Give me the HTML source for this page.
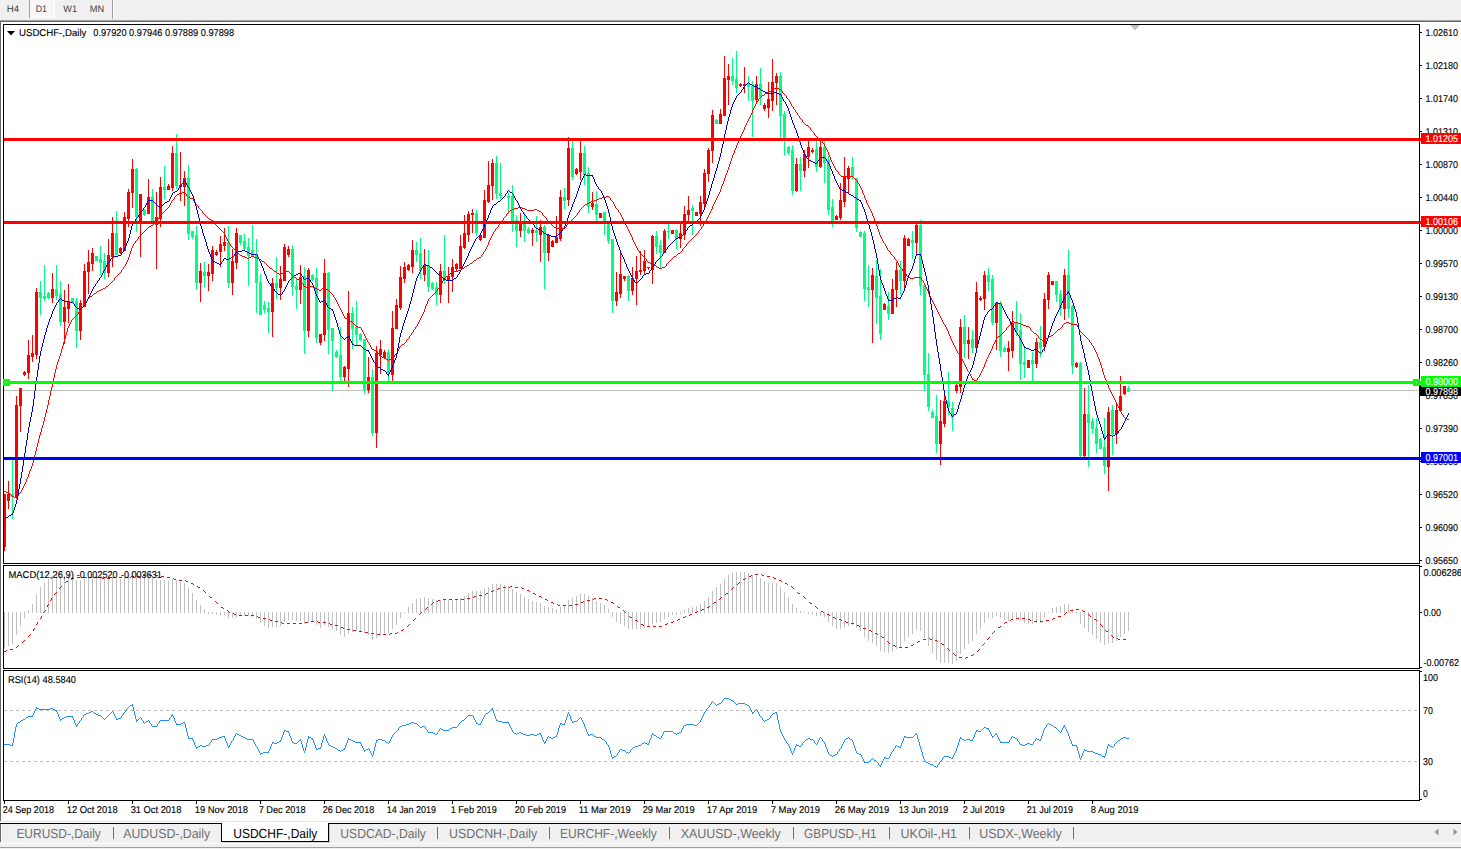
<!DOCTYPE html>
<html><head><meta charset="utf-8"><title>USDCHF-,Daily</title>
<style>
html,body{margin:0;padding:0;background:#ffffff;overflow:hidden}
body{width:1461px;height:849px;position:relative;font-family:"Liberation Sans",sans-serif}
svg text{font-family:"Liberation Sans",sans-serif;text-rendering:geometricPrecision}
</style></head><body>
<svg width="1461" height="849" viewBox="0 0 1461 849" shape-rendering="crispEdges" font-family="Liberation Sans, sans-serif" style="position:absolute;left:0;top:0">
<rect x="0" y="0" width="1461" height="849" fill="#ffffff"/>
<rect x="0" y="0" width="1461" height="20" fill="#f0f0f0"/>
<rect x="0" y="20" width="1461" height="1" fill="#a0a0a0"/>
<rect x="0" y="21" width="1461" height="1" fill="#696969"/>
<defs><pattern id="chk" width="2" height="2" patternUnits="userSpaceOnUse"><rect width="2" height="2" fill="#ffffff"/><rect width="1" height="1" fill="#f0f0f0"/><rect x="1" y="1" width="1" height="1" fill="#f0f0f0"/></pattern></defs>
<rect x="30" y="0" width="24" height="17" fill="url(#chk)"/>
<rect x="29" y="0" width="1" height="18" fill="#a0a0a0"/>
<rect x="30" y="17" width="25" height="1" fill="#ffffff"/>
<rect x="54" y="0" width="1" height="18" fill="#ffffff"/>
<rect x="112" y="0" width="1" height="19" fill="#a0a0a0"/>
<rect x="113" y="0" width="1" height="19" fill="#ffffff"/>
<text x="6.7" y="11.6" font-size="9.5" fill="#404040" stroke="#404040" stroke-width="0" textLength="12.3" lengthAdjust="spacingAndGlyphs"  xml:space="preserve">H4</text>
<text x="35.8" y="11.6" font-size="9.5" fill="#404040" stroke="#404040" stroke-width="0" textLength="11.2" lengthAdjust="spacingAndGlyphs"  xml:space="preserve">D1</text>
<text x="63.3" y="11.6" font-size="9.5" fill="#404040" stroke="#404040" stroke-width="0" textLength="13.7" lengthAdjust="spacingAndGlyphs"  xml:space="preserve">W1</text>
<text x="89.8" y="11.6" font-size="9.5" fill="#404040" stroke="#404040" stroke-width="0" textLength="14.4" lengthAdjust="spacingAndGlyphs"  xml:space="preserve">MN</text>
<rect x="0" y="22" width="1" height="799" fill="#696969"/>
<rect x="0" y="821" width="1461" height="1" fill="#e3e3e3"/>
<rect x="0" y="823" width="1461" height="1" fill="#000000"/>
<rect x="0" y="824" width="1461" height="19" fill="#f0f0f0"/>
<rect x="0" y="824" width="1" height="18" fill="#696969"/>
<rect x="1" y="824" width="1" height="19" fill="#ffffff"/>
<rect x="0" y="843" width="1461" height="1" fill="#ffffff"/>
<rect x="0" y="844" width="1461" height="3" fill="#f0f0f0"/>
<rect x="0" y="847" width="1461" height="1" fill="#a0a0a0"/>
<rect x="0" y="848" width="1461" height="1" fill="#f0f0f0"/>
<rect x="3" y="24" width="1417" height="1" fill="#000000"/>
<rect x="3" y="563" width="1417" height="1" fill="#000000"/>
<rect x="3" y="565" width="1417" height="1" fill="#000000"/>
<rect x="3" y="668" width="1417" height="1" fill="#000000"/>
<rect x="3" y="670" width="1417" height="1" fill="#000000"/>
<rect x="3" y="800" width="1417" height="1" fill="#000000"/>
<rect x="3" y="24" width="1" height="540" fill="#000000"/>
<rect x="3" y="565" width="1" height="104" fill="#000000"/>
<rect x="3" y="670" width="1" height="131" fill="#000000"/>
<rect x="1419" y="24" width="1" height="540" fill="#000000"/>
<rect x="1419" y="565" width="1" height="104" fill="#000000"/>
<rect x="1419" y="670" width="1" height="131" fill="#000000"/>
<path d="M1130 25h10l-5 5.5z" fill="#c0c0c0" shape-rendering="auto"/>
<rect x="1420" y="32" width="2" height="1" fill="#000000"/>
<text x="1425.5" y="36" font-size="9.9" fill="#000" stroke="#000" stroke-width="0.12" textLength="32.5" lengthAdjust="spacingAndGlyphs"  xml:space="preserve">1.02610</text>
<rect x="1420" y="65" width="2" height="1" fill="#000000"/>
<text x="1425.5" y="69" font-size="9.9" fill="#000" stroke="#000" stroke-width="0.12" textLength="32.5" lengthAdjust="spacingAndGlyphs"  xml:space="preserve">1.02180</text>
<rect x="1420" y="98" width="2" height="1" fill="#000000"/>
<text x="1425.5" y="102" font-size="9.9" fill="#000" stroke="#000" stroke-width="0.12" textLength="32.5" lengthAdjust="spacingAndGlyphs"  xml:space="preserve">1.01740</text>
<rect x="1420" y="131" width="2" height="1" fill="#000000"/>
<text x="1425.5" y="135" font-size="9.9" fill="#000" stroke="#000" stroke-width="0.12" textLength="32.5" lengthAdjust="spacingAndGlyphs"  xml:space="preserve">1.01310</text>
<rect x="1420" y="164" width="2" height="1" fill="#000000"/>
<text x="1425.5" y="168" font-size="9.9" fill="#000" stroke="#000" stroke-width="0.12" textLength="32.5" lengthAdjust="spacingAndGlyphs"  xml:space="preserve">1.00870</text>
<rect x="1420" y="197" width="2" height="1" fill="#000000"/>
<text x="1425.5" y="201" font-size="9.9" fill="#000" stroke="#000" stroke-width="0.12" textLength="32.5" lengthAdjust="spacingAndGlyphs"  xml:space="preserve">1.00440</text>
<rect x="1420" y="230" width="2" height="1" fill="#000000"/>
<text x="1425.5" y="234" font-size="9.9" fill="#000" stroke="#000" stroke-width="0.12" textLength="32.5" lengthAdjust="spacingAndGlyphs"  xml:space="preserve">1.00000</text>
<rect x="1420" y="263" width="2" height="1" fill="#000000"/>
<text x="1425.5" y="267" font-size="9.9" fill="#000" stroke="#000" stroke-width="0.12" textLength="32.5" lengthAdjust="spacingAndGlyphs"  xml:space="preserve">0.99570</text>
<rect x="1420" y="296" width="2" height="1" fill="#000000"/>
<text x="1425.5" y="300" font-size="9.9" fill="#000" stroke="#000" stroke-width="0.12" textLength="32.5" lengthAdjust="spacingAndGlyphs"  xml:space="preserve">0.99130</text>
<rect x="1420" y="329" width="2" height="1" fill="#000000"/>
<text x="1425.5" y="333" font-size="9.9" fill="#000" stroke="#000" stroke-width="0.12" textLength="32.5" lengthAdjust="spacingAndGlyphs"  xml:space="preserve">0.98700</text>
<rect x="1420" y="362" width="2" height="1" fill="#000000"/>
<text x="1425.5" y="366" font-size="9.9" fill="#000" stroke="#000" stroke-width="0.12" textLength="32.5" lengthAdjust="spacingAndGlyphs"  xml:space="preserve">0.98260</text>
<rect x="1420" y="395" width="2" height="1" fill="#000000"/>
<text x="1425.5" y="399" font-size="9.9" fill="#000" stroke="#000" stroke-width="0.12" textLength="32.5" lengthAdjust="spacingAndGlyphs"  xml:space="preserve">0.97830</text>
<rect x="1420" y="428" width="2" height="1" fill="#000000"/>
<text x="1425.5" y="432" font-size="9.9" fill="#000" stroke="#000" stroke-width="0.12" textLength="32.5" lengthAdjust="spacingAndGlyphs"  xml:space="preserve">0.97390</text>
<rect x="1420" y="461" width="2" height="1" fill="#000000"/>
<text x="1425.5" y="465" font-size="9.9" fill="#000" stroke="#000" stroke-width="0.12" textLength="32.5" lengthAdjust="spacingAndGlyphs"  xml:space="preserve">0.96960</text>
<rect x="1420" y="494" width="2" height="1" fill="#000000"/>
<text x="1425.5" y="498" font-size="9.9" fill="#000" stroke="#000" stroke-width="0.12" textLength="32.5" lengthAdjust="spacingAndGlyphs"  xml:space="preserve">0.96520</text>
<rect x="1420" y="527" width="2" height="1" fill="#000000"/>
<text x="1425.5" y="531" font-size="9.9" fill="#000" stroke="#000" stroke-width="0.12" textLength="32.5" lengthAdjust="spacingAndGlyphs"  xml:space="preserve">0.96090</text>
<rect x="1420" y="560" width="2" height="1" fill="#000000"/>
<text x="1425.5" y="564" font-size="9.9" fill="#000" stroke="#000" stroke-width="0.12" textLength="32.5" lengthAdjust="spacingAndGlyphs"  xml:space="preserve">0.95650</text>
<rect x="1420" y="566" width="2" height="1" fill="#000000"/>
<rect x="1420" y="612" width="2" height="1" fill="#000000"/>
<rect x="1420" y="667" width="2" height="1" fill="#000000"/>
<text x="1423.5" y="576" font-size="9.9" fill="#000" stroke="#000" stroke-width="0.12" textLength="38.5" lengthAdjust="spacingAndGlyphs"  xml:space="preserve">0.006286</text>
<text x="1423.5" y="616" font-size="9.9" fill="#000" stroke="#000" stroke-width="0.12" textLength="17.5" lengthAdjust="spacingAndGlyphs"  xml:space="preserve">0.00</text>
<text x="1423.5" y="665.5" font-size="9.9" fill="#000" stroke="#000" stroke-width="0.12" textLength="35.5" lengthAdjust="spacingAndGlyphs"  xml:space="preserve">-0.00762</text>
<rect x="1420" y="671" width="2" height="1" fill="#000000"/>
<rect x="1420" y="799" width="2" height="1" fill="#000000"/>
<text x="1423" y="681" font-size="9.9" fill="#000" stroke="#000" stroke-width="0.12" textLength="15" lengthAdjust="spacingAndGlyphs"  xml:space="preserve">100</text>
<text x="1423" y="714" font-size="9.9" fill="#000" stroke="#000" stroke-width="0.12" textLength="9.8" lengthAdjust="spacingAndGlyphs"  xml:space="preserve">70</text>
<text x="1423" y="765" font-size="9.9" fill="#000" stroke="#000" stroke-width="0.12" textLength="9.8" lengthAdjust="spacingAndGlyphs"  xml:space="preserve">30</text>
<text x="1423" y="797" font-size="9.9" fill="#000" stroke="#000" stroke-width="0.12" textLength="4.8" lengthAdjust="spacingAndGlyphs"  xml:space="preserve">0</text>
<rect x="4" y="801" width="1" height="3" fill="#000000"/>
<text x="2.7" y="813" font-size="9.9" fill="#000" stroke="#000" stroke-width="0.12" textLength="51.3" lengthAdjust="spacingAndGlyphs"  xml:space="preserve">24 Sep 2018</text>
<rect x="68" y="801" width="1" height="3" fill="#000000"/>
<text x="66.7" y="813" font-size="9.9" fill="#000" stroke="#000" stroke-width="0.12" textLength="51" lengthAdjust="spacingAndGlyphs"  xml:space="preserve">12 Oct 2018</text>
<rect x="132" y="801" width="1" height="3" fill="#000000"/>
<text x="130.7" y="813" font-size="9.9" fill="#000" stroke="#000" stroke-width="0.12" textLength="50.7" lengthAdjust="spacingAndGlyphs"  xml:space="preserve">31 Oct 2018</text>
<rect x="196" y="801" width="1" height="3" fill="#000000"/>
<text x="194.7" y="813" font-size="9.9" fill="#000" stroke="#000" stroke-width="0.12" textLength="53.4" lengthAdjust="spacingAndGlyphs"  xml:space="preserve">19 Nov 2018</text>
<rect x="260" y="801" width="1" height="3" fill="#000000"/>
<text x="258.7" y="813" font-size="9.9" fill="#000" stroke="#000" stroke-width="0.12" textLength="47" lengthAdjust="spacingAndGlyphs"  xml:space="preserve">7 Dec 2018</text>
<rect x="324" y="801" width="1" height="3" fill="#000000"/>
<text x="322.7" y="813" font-size="9.9" fill="#000" stroke="#000" stroke-width="0.12" textLength="51.6" lengthAdjust="spacingAndGlyphs"  xml:space="preserve">26 Dec 2018</text>
<rect x="388" y="801" width="1" height="3" fill="#000000"/>
<text x="386.7" y="813" font-size="9.9" fill="#000" stroke="#000" stroke-width="0.12" textLength="49.3" lengthAdjust="spacingAndGlyphs"  xml:space="preserve">14 Jan 2019</text>
<rect x="452" y="801" width="1" height="3" fill="#000000"/>
<text x="450.7" y="813" font-size="9.9" fill="#000" stroke="#000" stroke-width="0.12" textLength="46" lengthAdjust="spacingAndGlyphs"  xml:space="preserve">1 Feb 2019</text>
<rect x="516" y="801" width="1" height="3" fill="#000000"/>
<text x="514.7" y="813" font-size="9.9" fill="#000" stroke="#000" stroke-width="0.12" textLength="51.3" lengthAdjust="spacingAndGlyphs"  xml:space="preserve">20 Feb 2019</text>
<rect x="580" y="801" width="1" height="3" fill="#000000"/>
<text x="578.7" y="813" font-size="9.9" fill="#000" stroke="#000" stroke-width="0.12" textLength="52" lengthAdjust="spacingAndGlyphs"  xml:space="preserve">11 Mar 2019</text>
<rect x="644" y="801" width="1" height="3" fill="#000000"/>
<text x="642.7" y="813" font-size="9.9" fill="#000" stroke="#000" stroke-width="0.12" textLength="52" lengthAdjust="spacingAndGlyphs"  xml:space="preserve">29 Mar 2019</text>
<rect x="708" y="801" width="1" height="3" fill="#000000"/>
<text x="706.7" y="813" font-size="9.9" fill="#000" stroke="#000" stroke-width="0.12" textLength="50.4" lengthAdjust="spacingAndGlyphs"  xml:space="preserve">17 Apr 2019</text>
<rect x="772" y="801" width="1" height="3" fill="#000000"/>
<text x="770.7" y="813" font-size="9.9" fill="#000" stroke="#000" stroke-width="0.12" textLength="49.4" lengthAdjust="spacingAndGlyphs"  xml:space="preserve">7 May 2019</text>
<rect x="836" y="801" width="1" height="3" fill="#000000"/>
<text x="834.7" y="813" font-size="9.9" fill="#000" stroke="#000" stroke-width="0.12" textLength="54.5" lengthAdjust="spacingAndGlyphs"  xml:space="preserve">26 May 2019</text>
<rect x="900" y="801" width="1" height="3" fill="#000000"/>
<text x="898.7" y="813" font-size="9.9" fill="#000" stroke="#000" stroke-width="0.12" textLength="49.6" lengthAdjust="spacingAndGlyphs"  xml:space="preserve">13 Jun 2019</text>
<rect x="964" y="801" width="1" height="3" fill="#000000"/>
<text x="962.7" y="813" font-size="9.9" fill="#000" stroke="#000" stroke-width="0.12" textLength="42" lengthAdjust="spacingAndGlyphs"  xml:space="preserve">2 Jul 2019</text>
<rect x="1028" y="801" width="1" height="3" fill="#000000"/>
<text x="1026.7" y="813" font-size="9.9" fill="#000" stroke="#000" stroke-width="0.12" textLength="46.4" lengthAdjust="spacingAndGlyphs"  xml:space="preserve">21 Jul 2019</text>
<rect x="1092" y="801" width="1" height="3" fill="#000000"/>
<text x="1090.7" y="813" font-size="9.9" fill="#000" stroke="#000" stroke-width="0.12" textLength="47.7" lengthAdjust="spacingAndGlyphs"  xml:space="preserve">8 Aug 2019</text>
<path d="M4 710.5H1419M4 761.5H1419" stroke="#c0c0c0" stroke-width="1" stroke-dasharray="3 3" fill="none"/>
<g>
<rect x="4" y="390" width="1415" height="1" fill="#c0c0c0"/>
<path fill="#ff0000" d="M4 494h1v57h-1zM4 494h2v53h-2zM8 481h1v28h-1zM7 494h3v7h-3zM16 396h1v103h-1zM15 405h3v92h-3zM20 388h1v44h-1zM19 388h3v18h-3zM24 371h1v5h-1zM23 372h3v3h-3zM28 340h1v39h-1zM27 355h3v18h-3zM32 335h1v27h-1zM31 353h3v4h-3zM36 288h1v71h-1zM35 292h3v63h-3zM52 273h1v30h-1zM51 289h3v9h-3zM64 290h1v54h-1zM63 307h3v15h-3zM68 284h1v39h-1zM67 302h3v7h-3zM80 300h1v40h-1zM79 303h3v28h-3zM84 264h1v43h-1zM83 271h3v36h-3zM88 250h1v44h-1zM87 262h3v10h-3zM92 248h1v23h-1zM91 253h3v11h-3zM108 239h1v38h-1zM107 255h3v18h-3zM112 217h1v50h-1zM111 233h3v24h-3zM120 247h1v7h-1zM119 248h3v5h-3zM124 212h1v39h-1zM123 217h3v34h-3zM128 189h1v38h-1zM127 192h3v27h-3zM132 159h1v49h-1zM131 169h3v24h-3zM140 194h1v63h-1zM139 194h3v28h-3zM148 179h1v35h-1zM147 197h3v17h-3zM156 192h1v77h-1zM155 217h3v8h-3zM160 177h1v50h-1zM159 187h3v32h-3zM168 184h1v6h-1zM167 186h3v4h-3zM172 146h1v45h-1zM171 153h3v35h-3zM180 152h1v49h-1zM179 185h3v2h-3zM184 171h1v35h-1zM183 178h3v9h-3zM200 263h1v39h-1zM199 271h3v12h-3zM208 264h1v27h-1zM207 272h3v4h-3zM212 246h1v35h-1zM211 250h3v24h-3zM216 250h1v6h-1zM215 252h3v3h-3zM220 236h1v31h-1zM219 244h3v8h-3zM224 228h1v23h-1zM223 242h3v4h-3zM232 249h1v46h-1zM231 261h3v22h-3zM236 228h1v41h-1zM235 233h3v30h-3zM272 278h1v59h-1zM271 283h3v29h-3zM280 266h1v34h-1zM279 279h3v9h-3zM284 244h1v37h-1zM283 247h3v34h-3zM288 246h1v11h-1zM287 249h3v6h-3zM300 265h1v39h-1zM299 277h3v13h-3zM308 268h1v69h-1zM307 270h3v61h-3zM320 334h1v11h-1zM319 334h3v9h-3zM324 259h1v82h-1zM323 273h3v62h-3zM344 366h1v15h-1zM343 367h3v10h-3zM348 291h1v96h-1zM347 313h3v56h-3zM368 357h1v36h-1zM367 377h3v13h-3zM376 346h1v102h-1zM375 353h3v80h-3zM380 340h1v34h-1zM379 349h3v6h-3zM384 350h1v9h-1zM383 352h3v6h-3zM392 311h1v70h-1zM391 328h3v47h-3zM396 299h1v30h-1zM395 305h3v24h-3zM400 266h1v44h-1zM399 277h3v31h-3zM404 262h1v21h-1zM403 267h3v12h-3zM408 264h1v7h-1zM407 265h3v5h-3zM412 240h1v33h-1zM411 250h3v17h-3zM424 249h1v32h-1zM423 265h3v10h-3zM440 264h1v39h-1zM439 271h3v24h-3zM448 267h1v36h-1zM447 276h3v4h-3zM452 259h1v33h-1zM451 267h3v10h-3zM456 263h1v8h-1zM455 264h3v5h-3zM460 235h1v34h-1zM459 246h3v23h-3zM464 215h1v34h-1zM463 233h3v15h-3zM468 211h1v31h-1zM467 214h3v21h-3zM472 209h1v24h-1zM471 213h3v2h-3zM480 234h1v7h-1zM479 235h3v5h-3zM484 190h1v48h-1zM483 200h3v38h-3zM488 161h1v42h-1zM487 185h3v17h-3zM492 159h1v41h-1zM491 163h3v23h-3zM520 213h1v24h-1zM519 224h3v7h-3zM532 228h1v18h-1zM531 230h3v3h-3zM540 220h1v42h-1zM539 227h3v8h-3zM548 235h1v26h-1zM547 235h3v18h-3zM552 240h1v7h-1zM551 241h3v6h-3zM556 216h1v27h-1zM555 237h3v6h-3zM560 190h1v51h-1zM559 197h3v42h-3zM568 137h1v69h-1zM567 148h3v52h-3zM576 168h1v7h-1zM575 169h3v5h-3zM580 141h1v39h-1zM579 153h3v19h-3zM592 192h1v18h-1zM591 203h3v4h-3zM600 213h1v5h-1zM599 213h3v5h-3zM616 272h1v34h-1zM615 292h3v9h-3zM620 253h1v45h-1zM619 274h3v20h-3zM624 276h1v5h-1zM623 276h3v3h-3zM632 267h1v28h-1zM631 278h3v13h-3zM636 256h1v49h-1zM635 271h3v8h-3zM640 251h1v24h-1zM639 270h3v2h-3zM644 250h1v25h-1zM643 261h3v10h-3zM648 267h1v3h-1zM647 267h3v1h-3zM652 235h1v49h-1zM651 236h3v34h-3zM664 229h1v24h-1zM663 231h3v22h-3zM672 230h1v4h-1zM671 230h3v4h-3zM680 224h1v24h-1zM679 233h3v6h-3zM684 206h1v34h-1zM683 214h3v21h-3zM688 196h1v26h-1zM687 210h3v5h-3zM696 212h1v4h-1zM695 212h3v4h-3zM700 196h1v30h-1zM699 202h3v12h-3zM704 169h1v38h-1zM703 173h3v31h-3zM708 148h1v34h-1zM707 150h3v24h-3zM712 110h1v53h-1zM711 115h3v36h-3zM720 109h1v15h-1zM719 114h3v10h-3zM724 56h1v60h-1zM723 78h3v38h-3zM728 64h1v41h-1zM727 76h3v4h-3zM740 83h1v4h-1zM739 84h3v2h-3zM744 67h1v26h-1zM743 84h3v2h-3zM756 76h1v26h-1zM755 84h3v16h-3zM764 103h1v8h-1zM763 105h3v4h-3zM768 82h1v36h-1zM767 99h3v9h-3zM772 59h1v52h-1zM771 82h3v19h-3zM776 73h1v32h-1zM775 76h3v7h-3zM796 158h1v34h-1zM795 164h3v27h-3zM804 150h1v27h-1zM803 154h3v17h-3zM808 141h1v27h-1zM807 147h3v10h-3zM812 148h1v5h-1zM811 150h3v2h-3zM820 141h1v27h-1zM819 147h3v20h-3zM836 215h1v5h-1zM835 216h3v4h-3zM840 183h1v37h-1zM839 200h3v18h-3zM844 157h1v50h-1zM843 176h3v26h-3zM848 166h1v28h-1zM847 168h3v11h-3zM872 268h1v75h-1zM871 275h3v15h-3zM884 303h1v7h-1zM883 304h3v6h-3zM892 279h1v35h-1zM891 289h3v25h-3zM896 262h1v45h-1zM895 270h3v20h-3zM904 235h1v54h-1zM903 238h3v43h-3zM908 238h1v8h-1zM907 239h3v7h-3zM916 224h1v32h-1zM915 225h3v18h-3zM940 400h1v65h-1zM939 421h3v23h-3zM944 395h1v32h-1zM943 401h3v23h-3zM956 384h1v9h-1zM955 385h3v6h-3zM960 319h1v74h-1zM959 327h3v60h-3zM968 327h1v32h-1zM967 340h3v4h-3zM976 282h1v66h-1zM975 292h3v56h-3zM980 296h1v5h-1zM979 298h3v2h-3zM984 271h1v39h-1zM983 275h3v24h-3zM996 302h1v48h-1zM995 303h3v20h-3zM1008 341h1v30h-1zM1007 348h3v4h-3zM1012 311h1v47h-1zM1011 323h3v28h-3zM1028 360h1v8h-1zM1027 360h3v8h-3zM1036 338h1v30h-1zM1035 342h3v22h-3zM1044 293h1v58h-1zM1043 299h3v48h-3zM1048 272h1v37h-1zM1047 275h3v25h-3zM1052 281h1v4h-1zM1051 281h3v4h-3zM1064 269h1v51h-1zM1063 275h3v34h-3zM1076 362h1v6h-1zM1075 363h3v4h-3zM1084 388h1v69h-1zM1083 414h3v42h-3zM1108 407h1v84h-1zM1107 412h3v55h-3zM1116 402h1v42h-1zM1115 410h3v24h-3zM1120 376h1v35h-1zM1119 396h3v15h-3zM1124 386h1v9h-1zM1123 386h3v8h-3z"/>
<path fill="#00ff80" d="M12 457h1v62h-1zM11 494h3v3h-3zM40 281h1v34h-1zM39 292h3v6h-3zM44 265h1v36h-1zM43 296h3v3h-3zM48 292h1v7h-1zM47 293h3v5h-3zM56 265h1v35h-1zM55 289h3v7h-3zM60 281h1v45h-1zM59 294h3v28h-3zM72 298h1v5h-1zM71 298h3v5h-3zM76 298h1v50h-1zM75 301h3v30h-3zM96 256h1v5h-1zM95 256h3v5h-3zM100 246h1v29h-1zM99 259h3v4h-3zM104 253h1v26h-1zM103 261h3v12h-3zM116 211h1v44h-1zM115 233h3v22h-3zM136 168h1v64h-1zM135 169h3v48h-3zM144 209h1v7h-1zM143 210h3v5h-3zM152 189h1v34h-1zM151 197h3v25h-3zM164 166h1v33h-1zM163 187h3v3h-3zM176 134h1v55h-1zM175 153h3v33h-3zM188 165h1v75h-1zM187 178h3v56h-3zM192 231h1v8h-1zM191 231h3v6h-3zM196 226h1v64h-1zM195 235h3v48h-3zM204 262h1v25h-1zM203 272h3v4h-3zM228 226h1v62h-1zM227 242h3v41h-3zM240 235h1v10h-1zM239 235h3v8h-3zM244 234h1v16h-1zM243 241h3v8h-3zM248 238h1v48h-1zM247 247h3v9h-3zM252 225h1v32h-1zM251 250h3v7h-3zM256 239h1v74h-1zM255 254h3v29h-3zM260 274h1v41h-1zM259 282h3v33h-3zM264 301h1v12h-1zM263 305h3v5h-3zM268 302h1v31h-1zM267 308h3v4h-3zM276 257h1v42h-1zM275 283h3v5h-3zM292 245h1v51h-1zM291 249h3v38h-3zM296 279h1v30h-1zM295 286h3v4h-3zM304 267h1v87h-1zM303 276h3v55h-3zM312 274h1v7h-1zM311 275h3v5h-3zM316 268h1v75h-1zM315 278h3v60h-3zM328 272h1v82h-1zM327 273h3v57h-3zM332 328h1v63h-1zM331 328h3v13h-3zM336 350h1v8h-1zM335 352h3v5h-3zM340 327h1v54h-1zM339 355h3v22h-3zM352 307h1v42h-1zM351 313h3v16h-3zM356 301h1v44h-1zM355 327h3v8h-3zM360 333h1v8h-1zM359 334h3v6h-3zM364 339h1v55h-1zM363 339h3v51h-3zM372 369h1v67h-1zM371 377h3v56h-3zM388 349h1v32h-1zM387 352h3v21h-3zM416 242h1v20h-1zM415 250h3v5h-3zM420 238h1v41h-1zM419 253h3v18h-3zM428 250h1v42h-1zM427 266h3v21h-3zM432 282h1v8h-1zM431 283h3v6h-3zM436 282h1v23h-1zM435 287h3v8h-3zM444 235h1v49h-1zM443 271h3v8h-3zM476 210h1v26h-1zM475 213h3v20h-3zM496 156h1v43h-1zM495 163h3v31h-3zM500 163h1v36h-1zM499 193h3v3h-3zM508 193h1v21h-1zM507 196h3v2h-3zM512 185h1v47h-1zM511 196h3v26h-3zM516 215h1v32h-1zM515 220h3v11h-3zM524 213h1v29h-1zM523 224h3v7h-3zM528 227h1v7h-1zM527 229h3v4h-3zM536 216h1v26h-1zM535 230h3v3h-3zM544 225h1v64h-1zM543 227h3v26h-3zM564 188h1v21h-1zM563 197h3v4h-3zM572 141h1v39h-1zM571 148h3v29h-3zM584 146h1v39h-1zM583 153h3v22h-3zM588 167h1v46h-1zM587 173h3v34h-3zM596 191h1v31h-1zM595 204h3v11h-3zM604 212h1v23h-1zM603 212h3v11h-3zM608 222h1v22h-1zM607 222h3v19h-3zM612 239h1v74h-1zM611 239h3v62h-3zM628 275h1v26h-1zM627 276h3v15h-3zM656 231h1v23h-1zM655 236h3v11h-3zM660 240h1v28h-1zM659 245h3v8h-3zM668 224h1v15h-1zM667 231h3v1h-3zM676 229h1v20h-1zM675 230h3v9h-3zM692 205h1v30h-1zM691 208h3v3h-3zM716 119h1v5h-1zM715 120h3v4h-3zM732 58h1v27h-1zM731 76h3v5h-3zM736 51h1v42h-1zM735 79h3v9h-3zM748 76h1v25h-1zM747 84h3v3h-3zM752 81h1v56h-1zM751 86h3v15h-3zM760 68h1v37h-1zM759 84h3v13h-3zM780 72h1v67h-1zM779 76h3v40h-3zM784 111h1v44h-1zM783 114h3v24h-3zM788 146h1v9h-1zM787 147h3v6h-3zM792 145h1v50h-1zM791 150h3v41h-3zM800 157h1v34h-1zM799 164h3v7h-3zM816 141h1v31h-1zM815 149h3v18h-3zM824 141h1v42h-1zM823 147h3v16h-3zM828 156h1v59h-1zM827 160h3v50h-3zM832 199h1v28h-1zM831 207h3v16h-3zM852 157h1v23h-1zM851 167h3v10h-3zM856 178h1v54h-1zM855 178h3v50h-3zM860 231h1v6h-1zM859 232h3v5h-3zM864 231h1v70h-1zM863 233h3v56h-3zM868 265h1v42h-1zM867 287h3v3h-3zM876 260h1v64h-1zM875 276h3v22h-3zM880 269h1v71h-1zM879 296h3v38h-3zM888 292h1v28h-1zM887 306h3v8h-3zM900 261h1v34h-1zM899 270h3v11h-3zM912 231h1v28h-1zM911 240h3v3h-3zM920 220h1v75h-1zM919 225h3v61h-3zM924 285h1v106h-1zM923 285h3v90h-3zM928 353h1v58h-1zM927 374h3v33h-3zM932 410h1v8h-1zM931 412h3v6h-3zM936 395h1v58h-1zM935 416h3v28h-3zM948 372h1v43h-1zM947 401h3v6h-3zM952 402h1v29h-1zM951 408h3v10h-3zM964 315h1v43h-1zM963 327h3v17h-3zM972 330h1v23h-1zM971 339h3v9h-3zM988 268h1v23h-1zM987 275h3v7h-3zM992 275h1v50h-1zM991 279h3v44h-3zM1000 301h1v56h-1zM999 303h3v48h-3zM1004 346h1v6h-1zM1003 348h3v4h-3zM1016 301h1v35h-1zM1015 323h3v9h-3zM1020 313h1v67h-1zM1019 330h3v34h-3zM1024 346h1v32h-1zM1023 362h3v3h-3zM1032 352h1v30h-1zM1031 360h3v4h-3zM1040 326h1v31h-1zM1039 342h3v6h-3zM1056 281h1v21h-1zM1055 281h3v14h-3zM1060 290h1v26h-1zM1059 294h3v14h-3zM1068 250h1v68h-1zM1067 275h3v34h-3zM1072 305h1v69h-1zM1071 306h3v60h-3zM1080 362h1v96h-1zM1079 363h3v93h-3zM1088 385h1v82h-1zM1087 414h3v9h-3zM1092 418h1v16h-1zM1091 421h3v8h-3zM1096 418h1v35h-1zM1095 428h3v16h-3zM1100 438h1v11h-1zM1099 439h3v10h-3zM1104 418h1v56h-1zM1103 447h3v19h-3zM1112 405h1v50h-1zM1111 410h3v24h-3zM1128 386h1v6h-1zM1127 388h3v4h-3z"/>
<path fill="#ff0000" d="M4 491h2v1h-2zM6 492h3v1h-3zM9 493h1v1h-1zM10 494h1v1h-1zM11 495h1v1h-1zM12 496h2v1h-2zM14 497h3v1h-3zM17 496h1v1h-1zM18 494h1v2h-1zM19 493h1v1h-1zM20 492h1v1h-1zM21 490h1v2h-1zM22 488h1v2h-1zM23 486h1v2h-1zM24 484h1v2h-1zM25 482h1v2h-1zM26 479h1v3h-1zM27 477h1v2h-1zM28 474h1v3h-1zM29 471h1v3h-1zM30 469h1v2h-1zM31 466h1v3h-1zM32 463h1v3h-1zM33 459h1v4h-1zM34 455h1v4h-1zM35 451h1v4h-1zM36 447h1v4h-1zM37 443h1v4h-1zM38 439h1v4h-1zM39 435h1v4h-1zM40 432h1v3h-1zM41 428h1v4h-1zM42 425h1v3h-1zM43 421h1v4h-1zM44 417h1v4h-1zM45 413h1v4h-1zM46 409h1v4h-1zM47 405h1v4h-1zM48 400h1v5h-1zM49 396h1v4h-1zM50 391h1v5h-1zM51 387h1v4h-1zM52 382h1v5h-1zM53 378h1v4h-1zM54 373h1v5h-1zM55 369h1v4h-1zM56 365h1v4h-1zM57 362h1v3h-1zM58 359h1v3h-1zM59 356h1v3h-1zM60 353h1v3h-1zM61 349h1v4h-1zM62 346h1v3h-1zM63 342h1v4h-1zM64 339h1v3h-1zM65 335h1v4h-1zM66 332h1v3h-1zM67 328h1v4h-1zM68 326h1v2h-1zM69 324h1v2h-1zM70 322h1v2h-1zM71 320h1v2h-1zM72 319h1v1h-1zM73 318h1v1h-1zM74 317h1v1h-1zM75 316h1v1h-1zM76 315h1v1h-1zM77 314h1v1h-1zM78 312h1v2h-1zM79 311h1v1h-1zM80 310h1v1h-1zM81 308h1v2h-1zM82 307h1v1h-1zM83 305h1v2h-1zM84 304h1v1h-1zM85 302h1v2h-1zM86 301h1v1h-1zM87 299h1v2h-1zM88 298h1v1h-1zM89 297h1v1h-1zM90 296h2v1h-2zM92 295h1v1h-1zM93 294h1v1h-1zM94 293h2v1h-2zM96 292h1v1h-1zM97 291h2v1h-2zM99 290h2v1h-2zM101 289h2v1h-2zM103 288h2v1h-2zM105 287h1v1h-1zM106 286h2v1h-2zM108 285h1v1h-1zM109 284h1v1h-1zM110 283h1v1h-1zM111 282h1v1h-1zM112 281h1v1h-1zM113 280h1v1h-1zM114 278h1v2h-1zM115 277h1v1h-1zM116 276h1v1h-1zM117 275h1v1h-1zM118 274h1v1h-1zM119 273h1v1h-1zM120 272h1v1h-1zM121 270h1v2h-1zM122 269h1v1h-1zM123 267h1v2h-1zM124 266h1v1h-1zM125 264h1v2h-1zM126 262h1v2h-1zM127 260h1v2h-1zM128 257h1v3h-1zM129 254h1v3h-1zM130 251h1v3h-1zM131 248h1v3h-1zM132 246h1v2h-1zM133 244h1v2h-1zM134 243h1v1h-1zM135 241h1v2h-1zM136 240h1v1h-1zM137 239h1v1h-1zM138 237h1v2h-1zM139 236h1v1h-1zM140 235h1v1h-1zM141 234h1v1h-1zM142 233h1v1h-1zM143 232h1v1h-1zM144 231h1v1h-1zM145 230h1v1h-1zM146 229h1v1h-1zM147 228h1v1h-1zM148 227h1v1h-1zM149 226h2v1h-2zM151 225h2v1h-2zM153 224h1v1h-1zM154 223h1v1h-1zM155 222h1v1h-1zM156 221h1v1h-1zM157 219h1v2h-1zM158 218h1v1h-1zM159 216h1v2h-1zM160 215h1v1h-1zM161 214h1v1h-1zM162 213h1v1h-1zM163 212h1v1h-1zM164 211h1v1h-1zM165 210h1v1h-1zM166 209h1v1h-1zM167 208h1v1h-1zM168 207h1v1h-1zM169 205h1v2h-1zM170 203h1v2h-1zM171 201h1v2h-1zM172 200h1v1h-1zM173 199h1v1h-1zM174 197h1v2h-1zM175 196h1v1h-1zM176 195h1v1h-1zM177 194h2v1h-2zM179 193h3v1h-3zM182 192h3v1h-3zM185 193h1v1h-1zM186 194h1v2h-1zM187 196h1v1h-1zM188 197h2v1h-2zM190 198h3v1h-3zM193 199h1v2h-1zM194 201h1v1h-1zM195 202h1v2h-1zM196 204h1v1h-1zM197 205h1v1h-1zM198 206h1v2h-1zM199 208h1v1h-1zM200 209h1v1h-1zM201 210h1v1h-1zM202 211h1v2h-1zM203 213h1v1h-1zM204 214h1v1h-1zM205 215h1v1h-1zM206 216h1v1h-1zM207 217h1v1h-1zM208 218h1v1h-1zM209 219h2v1h-2zM211 220h2v1h-2zM213 221h1v1h-1zM214 222h1v2h-1zM215 224h1v1h-1zM216 225h1v1h-1zM217 226h1v1h-1zM218 227h1v1h-1zM219 228h1v1h-1zM220 229h1v1h-1zM221 230h1v1h-1zM222 231h1v1h-1zM223 232h1v1h-1zM224 233h1v2h-1zM225 235h1v2h-1zM226 237h1v2h-1zM227 239h1v2h-1zM228 241h1v2h-1zM229 243h1v1h-1zM230 244h1v2h-1zM231 246h1v1h-1zM232 247h1v1h-1zM233 248h1v1h-1zM234 249h1v1h-1zM235 250h1v1h-1zM236 251h1v1h-1zM237 252h1v1h-1zM238 253h1v1h-1zM239 254h1v1h-1zM240 255h2v1h-2zM242 256h3v1h-3zM245 257h2v1h-2zM247 258h2v1h-2zM249 257h2v1h-2zM251 256h3v1h-3zM254 257h3v1h-3zM257 258h2v1h-2zM259 259h2v1h-2zM261 260h1v1h-1zM262 261h2v1h-2zM264 262h1v1h-1zM265 263h1v1h-1zM266 264h1v1h-1zM267 265h1v1h-1zM268 266h1v1h-1zM269 267h1v1h-1zM270 268h2v1h-2zM272 269h1v1h-1zM273 270h1v1h-1zM274 271h2v1h-2zM276 272h1v1h-1zM277 273h2v1h-2zM279 274h2v1h-2zM281 273h2v1h-2zM283 272h3v1h-3zM286 271h3v1h-3zM289 272h1v1h-1zM290 273h1v1h-1zM291 274h1v1h-1zM292 275h1v1h-1zM293 276h1v1h-1zM294 277h2v1h-2zM296 278h1v1h-1zM297 279h2v1h-2zM299 280h2v1h-2zM301 281h1v2h-1zM302 283h1v1h-1zM303 284h1v2h-1zM304 286h2v1h-2zM306 287h4v1h-4zM310 286h3v1h-3zM313 287h2v1h-2zM315 288h2v1h-2zM317 289h2v1h-2zM319 290h2v1h-2zM321 289h1v1h-1zM322 288h2v1h-2zM324 287h1v1h-1zM325 288h1v1h-1zM326 289h2v1h-2zM328 290h1v1h-1zM329 291h1v1h-1zM330 292h1v1h-1zM331 293h1v1h-1zM332 294h1v1h-1zM333 295h1v2h-1zM334 297h1v1h-1zM335 298h1v2h-1zM336 300h1v2h-1zM337 302h1v2h-1zM338 304h1v2h-1zM339 306h1v2h-1zM340 308h1v2h-1zM341 310h1v2h-1zM342 312h1v2h-1zM343 314h1v2h-1zM344 316h1v2h-1zM345 318h2v1h-2zM347 319h2v1h-2zM349 320h1v1h-1zM350 321h2v1h-2zM352 322h1v1h-1zM353 323h1v1h-1zM354 324h1v1h-1zM355 325h1v1h-1zM356 326h2v1h-2zM358 327h3v1h-3zM361 328h1v2h-1zM362 330h1v2h-1zM363 332h1v2h-1zM364 334h1v2h-1zM365 336h1v2h-1zM366 338h1v2h-1zM367 340h1v2h-1zM368 342h1v1h-1zM369 343h1v2h-1zM370 345h1v2h-1zM371 347h1v2h-1zM372 349h2v1h-2zM374 350h3v1h-3zM377 351h1v2h-1zM378 353h1v1h-1zM379 354h1v2h-1zM380 356h2v1h-2zM382 357h3v1h-3zM385 358h1v1h-1zM386 359h2v1h-2zM388 360h1v1h-1zM389 359h2v1h-2zM391 358h2v1h-2zM393 357h1v1h-1zM394 355h1v2h-1zM395 354h1v1h-1zM396 353h1v1h-1zM397 351h1v2h-1zM398 349h1v2h-1zM399 347h1v2h-1zM400 346h1v1h-1zM401 345h1v1h-1zM402 344h2v1h-2zM404 343h1v1h-1zM405 342h1v1h-1zM406 340h1v2h-1zM407 339h1v1h-1zM408 338h1v1h-1zM409 336h1v2h-1zM410 335h1v1h-1zM411 333h1v2h-1zM412 332h1v1h-1zM413 330h1v2h-1zM414 329h1v1h-1zM415 327h1v2h-1zM416 326h1v1h-1zM417 324h1v2h-1zM418 322h1v2h-1zM419 320h1v2h-1zM420 318h1v2h-1zM421 316h1v2h-1zM422 314h1v2h-1zM423 312h1v2h-1zM424 309h1v3h-1zM425 306h1v3h-1zM426 304h1v2h-1zM427 301h1v3h-1zM428 299h1v2h-1zM429 298h1v1h-1zM430 297h1v1h-1zM431 296h1v1h-1zM432 295h1v1h-1zM433 294h1v1h-1zM434 293h1v1h-1zM435 292h1v1h-1zM436 291h1v1h-1zM437 289h1v2h-1zM438 288h1v1h-1zM439 286h1v2h-1zM440 285h1v1h-1zM441 283h1v2h-1zM442 281h1v2h-1zM443 279h1v2h-1zM444 278h1v1h-1zM445 277h1v1h-1zM446 276h2v1h-2zM448 275h1v1h-1zM449 274h1v1h-1zM450 273h2v1h-2zM452 272h2v1h-2zM454 271h4v1h-4zM458 270h3v1h-3zM461 269h1v1h-1zM462 268h2v1h-2zM464 267h1v1h-1zM465 266h2v1h-2zM467 265h2v1h-2zM469 264h1v1h-1zM470 263h2v1h-2zM472 262h1v1h-1zM473 261h1v1h-1zM474 260h2v1h-2zM476 259h1v1h-1zM477 258h2v1h-2zM479 257h2v1h-2zM481 255h1v2h-1zM482 254h1v1h-1zM483 252h1v2h-1zM484 251h1v1h-1zM485 249h1v2h-1zM486 247h1v2h-1zM487 245h1v2h-1zM488 242h1v3h-1zM489 240h1v2h-1zM490 238h1v2h-1zM491 236h1v2h-1zM492 234h1v2h-1zM493 232h1v2h-1zM494 231h1v1h-1zM495 229h1v2h-1zM496 228h1v1h-1zM497 227h1v1h-1zM498 225h1v2h-1zM499 224h1v1h-1zM500 223h1v1h-1zM501 221h1v2h-1zM502 220h1v1h-1zM503 218h1v2h-1zM504 217h1v1h-1zM505 216h1v1h-1zM506 214h1v2h-1zM507 213h1v1h-1zM508 212h1v1h-1zM509 211h1v1h-1zM510 210h2v1h-2zM512 209h2v1h-2zM514 208h4v1h-4zM518 207h4v1h-4zM522 208h3v1h-3zM525 209h2v1h-2zM527 210h7v1h-7zM534 209h3v1h-3zM537 210h2v1h-2zM539 211h2v1h-2zM541 212h1v1h-1zM542 213h1v2h-1zM543 215h1v1h-1zM544 216h1v1h-1zM545 217h1v1h-1zM546 218h1v2h-1zM547 220h1v1h-1zM548 221h1v1h-1zM549 222h1v1h-1zM550 223h1v1h-1zM551 224h1v1h-1zM552 225h1v1h-1zM553 226h1v1h-1zM554 227h2v1h-2zM556 228h9v1h-9zM565 227h1v1h-1zM566 225h1v2h-1zM567 224h1v1h-1zM568 223h1v1h-1zM569 222h1v1h-1zM570 221h1v1h-1zM571 220h1v1h-1zM572 219h1v1h-1zM573 218h1v1h-1zM574 217h1v1h-1zM575 216h1v1h-1zM576 215h1v1h-1zM577 213h1v2h-1zM578 212h1v1h-1zM579 210h1v2h-1zM580 209h1v1h-1zM581 208h1v1h-1zM582 207h1v1h-1zM583 206h1v1h-1zM584 205h1v1h-1zM585 204h2v1h-2zM587 203h2v1h-2zM589 202h2v1h-2zM591 201h3v1h-3zM594 200h3v1h-3zM597 199h2v1h-2zM599 198h3v1h-3zM602 197h4v1h-4zM606 196h3v1h-3zM609 197h1v1h-1zM610 198h1v2h-1zM611 200h1v1h-1zM612 201h1v1h-1zM613 202h1v2h-1zM614 204h1v2h-1zM615 206h1v2h-1zM616 208h1v1h-1zM617 209h1v1h-1zM618 210h1v2h-1zM619 212h1v1h-1zM620 213h1v2h-1zM621 215h1v2h-1zM622 217h1v2h-1zM623 219h1v2h-1zM624 221h1v2h-1zM625 223h1v2h-1zM626 225h1v2h-1zM627 227h1v2h-1zM628 229h1v2h-1zM629 231h1v2h-1zM630 233h1v2h-1zM631 235h1v2h-1zM632 237h1v3h-1zM633 240h1v2h-1zM634 242h1v2h-1zM635 244h1v2h-1zM636 246h1v2h-1zM637 248h1v2h-1zM638 250h1v1h-1zM639 251h1v2h-1zM640 253h1v1h-1zM641 254h1v1h-1zM642 255h1v1h-1zM643 256h1v1h-1zM644 257h1v1h-1zM645 258h1v1h-1zM646 259h1v2h-1zM647 261h1v1h-1zM648 262h2v1h-2zM650 263h3v1h-3zM653 264h1v1h-1zM654 265h2v1h-2zM656 266h1v1h-1zM657 267h2v1h-2zM659 268h3v1h-3zM662 267h3v1h-3zM665 266h1v1h-1zM666 264h1v2h-1zM667 263h1v1h-1zM668 262h1v1h-1zM669 261h1v1h-1zM670 260h1v1h-1zM671 259h1v1h-1zM672 258h1v1h-1zM673 257h1v1h-1zM674 256h2v1h-2zM676 255h1v1h-1zM677 254h1v1h-1zM678 253h2v1h-2zM680 252h1v1h-1zM681 251h1v1h-1zM682 249h1v2h-1zM683 248h1v1h-1zM684 247h1v1h-1zM685 246h1v1h-1zM686 244h1v2h-1zM687 243h1v1h-1zM688 242h1v1h-1zM689 241h1v1h-1zM690 240h1v1h-1zM691 239h1v1h-1zM692 238h1v1h-1zM693 237h1v1h-1zM694 236h1v1h-1zM695 235h1v1h-1zM696 234h1v1h-1zM697 233h1v1h-1zM698 231h1v2h-1zM699 230h1v1h-1zM700 229h1v1h-1zM701 227h1v2h-1zM702 226h1v1h-1zM703 224h1v2h-1zM704 223h1v1h-1zM705 221h1v2h-1zM706 219h1v2h-1zM707 217h1v2h-1zM708 215h1v2h-1zM709 213h1v2h-1zM710 211h1v2h-1zM711 209h1v2h-1zM712 206h1v3h-1zM713 204h1v2h-1zM714 202h1v2h-1zM715 200h1v2h-1zM716 198h1v2h-1zM717 196h1v2h-1zM718 194h1v2h-1zM719 192h1v2h-1zM720 189h1v3h-1zM721 186h1v3h-1zM722 184h1v2h-1zM723 181h1v3h-1zM724 178h1v3h-1zM725 175h1v3h-1zM726 173h1v2h-1zM727 170h1v3h-1zM728 167h1v3h-1zM729 164h1v3h-1zM730 161h1v3h-1zM731 158h1v3h-1zM732 155h1v3h-1zM733 153h1v2h-1zM734 150h1v3h-1zM735 148h1v2h-1zM736 145h1v3h-1zM737 143h1v2h-1zM738 141h1v2h-1zM739 139h1v2h-1zM740 136h1v3h-1zM741 134h1v2h-1zM742 132h1v2h-1zM743 130h1v2h-1zM744 127h1v3h-1zM745 125h1v2h-1zM746 123h1v2h-1zM747 121h1v2h-1zM748 119h1v2h-1zM749 117h1v2h-1zM750 115h1v2h-1zM751 113h1v2h-1zM752 110h1v3h-1zM753 108h1v2h-1zM754 106h1v2h-1zM755 104h1v2h-1zM756 102h1v2h-1zM757 101h1v1h-1zM758 99h1v2h-1zM759 98h1v1h-1zM760 97h1v1h-1zM761 96h1v1h-1zM762 95h2v1h-2zM764 94h1v1h-1zM765 93h2v1h-2zM767 92h2v1h-2zM769 91h2v1h-2zM771 90h2v1h-2zM773 89h1v1h-1zM774 88h2v1h-2zM776 87h1v1h-1zM777 88h2v1h-2zM779 89h2v1h-2zM781 90h1v1h-1zM782 91h1v2h-1zM783 93h1v1h-1zM784 94h1v1h-1zM785 95h1v1h-1zM786 96h1v2h-1zM787 98h1v1h-1zM788 99h1v1h-1zM789 100h1v2h-1zM790 102h1v2h-1zM791 104h1v2h-1zM792 106h1v1h-1zM793 107h1v2h-1zM794 109h1v1h-1zM795 110h1v2h-1zM796 112h1v1h-1zM797 113h1v2h-1zM798 115h1v1h-1zM799 116h1v2h-1zM800 118h1v1h-1zM801 119h1v1h-1zM802 120h1v2h-1zM803 122h1v1h-1zM804 123h1v1h-1zM805 124h1v1h-1zM806 125h2v1h-2zM808 126h1v1h-1zM809 127h1v1h-1zM810 128h1v2h-1zM811 130h1v1h-1zM812 131h1v1h-1zM813 132h1v1h-1zM814 133h1v2h-1zM815 135h1v1h-1zM816 136h1v1h-1zM817 137h1v1h-1zM818 138h2v1h-2zM820 139h1v1h-1zM821 140h1v1h-1zM822 141h1v2h-1zM823 143h1v1h-1zM824 144h1v2h-1zM825 146h1v2h-1zM826 148h1v2h-1zM827 150h1v2h-1zM828 152h1v3h-1zM829 155h1v2h-1zM830 157h1v3h-1zM831 160h1v2h-1zM832 162h1v2h-1zM833 164h1v2h-1zM834 166h1v2h-1zM835 168h1v2h-1zM836 170h1v1h-1zM837 171h1v1h-1zM838 172h1v2h-1zM839 174h1v1h-1zM840 175h1v1h-1zM841 176h2v1h-2zM843 177h2v1h-2zM845 176h2v1h-2zM847 175h3v1h-3zM850 176h3v1h-3zM853 177h1v1h-1zM854 178h1v1h-1zM855 179h1v1h-1zM856 180h1v1h-1zM857 181h1v2h-1zM858 183h1v1h-1zM859 184h1v2h-1zM860 186h1v2h-1zM861 188h1v2h-1zM862 190h1v3h-1zM863 193h1v2h-1zM864 195h1v3h-1zM865 198h1v2h-1zM866 200h1v3h-1zM867 203h1v2h-1zM868 205h1v2h-1zM869 207h1v2h-1zM870 209h1v2h-1zM871 211h1v2h-1zM872 213h1v3h-1zM873 216h1v2h-1zM874 218h1v3h-1zM875 221h1v2h-1zM876 223h1v3h-1zM877 226h1v3h-1zM878 229h1v3h-1zM879 232h1v3h-1zM880 235h1v2h-1zM881 237h1v2h-1zM882 239h1v2h-1zM883 241h1v2h-1zM884 243h1v1h-1zM885 244h1v2h-1zM886 246h1v2h-1zM887 248h1v2h-1zM888 250h1v1h-1zM889 251h1v1h-1zM890 252h1v2h-1zM891 254h1v1h-1zM892 255h1v1h-1zM893 256h1v1h-1zM894 257h1v2h-1zM895 259h1v1h-1zM896 260h1v1h-1zM897 261h1v2h-1zM898 263h1v2h-1zM899 265h1v2h-1zM900 267h1v1h-1zM901 268h1v1h-1zM902 269h1v2h-1zM903 271h1v1h-1zM904 272h1v1h-1zM905 273h1v1h-1zM906 274h1v2h-1zM907 276h1v1h-1zM908 277h2v1h-2zM910 278h4v1h-4zM914 277h7v1h-7zM921 278h1v2h-1zM922 280h1v1h-1zM923 281h1v2h-1zM924 283h1v2h-1zM925 285h1v2h-1zM926 287h1v2h-1zM927 289h1v2h-1zM928 291h1v3h-1zM929 294h1v2h-1zM930 296h1v2h-1zM931 298h1v2h-1zM932 300h1v2h-1zM933 302h1v2h-1zM934 304h1v2h-1zM935 306h1v2h-1zM936 308h1v2h-1zM937 310h1v2h-1zM938 312h1v2h-1zM939 314h1v2h-1zM940 316h1v2h-1zM941 318h1v2h-1zM942 320h1v2h-1zM943 322h1v2h-1zM944 324h1v1h-1zM945 325h1v2h-1zM946 327h1v2h-1zM947 329h1v2h-1zM948 331h1v3h-1zM949 334h1v2h-1zM950 336h1v3h-1zM951 339h1v2h-1zM952 341h1v2h-1zM953 343h1v2h-1zM954 345h1v2h-1zM955 347h1v2h-1zM956 349h1v2h-1zM957 351h1v2h-1zM958 353h1v1h-1zM959 354h1v2h-1zM960 356h1v1h-1zM961 357h1v2h-1zM962 359h1v2h-1zM963 361h1v2h-1zM964 363h1v2h-1zM965 365h1v2h-1zM966 367h1v2h-1zM967 369h1v2h-1zM968 371h1v1h-1zM969 372h1v2h-1zM970 374h1v2h-1zM971 376h1v2h-1zM972 378h1v2h-1zM973 379h1v1h-1zM974 380h3v1h-3zM977 378h1v2h-1zM978 377h1v1h-1zM979 375h1v2h-1zM980 373h1v2h-1zM981 371h1v2h-1zM982 369h1v2h-1zM983 367h1v2h-1zM984 364h1v3h-1zM985 362h1v2h-1zM986 359h1v3h-1zM987 357h1v2h-1zM988 355h1v2h-1zM989 353h1v2h-1zM990 351h1v2h-1zM991 349h1v2h-1zM992 346h1v3h-1zM993 344h1v2h-1zM994 342h1v2h-1zM995 340h1v2h-1zM996 338h1v2h-1zM997 337h1v1h-1zM998 336h2v1h-2zM1000 335h1v1h-1zM1001 334h1v1h-1zM1002 333h1v1h-1zM1003 332h1v1h-1zM1004 331h1v1h-1zM1005 330h1v1h-1zM1006 328h1v2h-1zM1007 327h1v1h-1zM1008 326h1v1h-1zM1009 325h1v1h-1zM1010 323h1v2h-1zM1011 322h1v1h-1zM1012 321h2v1h-2zM1014 322h4v1h-4zM1018 323h3v1h-3zM1021 324h2v1h-2zM1023 325h3v1h-3zM1026 326h3v1h-3zM1029 327h1v1h-1zM1030 328h1v2h-1zM1031 330h1v1h-1zM1032 331h1v1h-1zM1033 332h1v1h-1zM1034 333h2v1h-2zM1036 334h1v1h-1zM1037 335h1v1h-1zM1038 336h1v2h-1zM1039 338h1v1h-1zM1040 339h2v1h-2zM1042 340h3v1h-3zM1045 339h1v1h-1zM1046 338h2v1h-2zM1048 337h1v1h-1zM1049 336h2v1h-2zM1051 335h2v1h-2zM1053 334h1v1h-1zM1054 333h1v1h-1zM1055 332h1v1h-1zM1056 331h1v1h-1zM1057 330h1v1h-1zM1058 329h2v1h-2zM1060 328h1v1h-1zM1061 327h1v1h-1zM1062 325h1v2h-1zM1063 324h1v1h-1zM1064 323h2v1h-2zM1066 322h3v1h-3zM1069 323h2v1h-2zM1071 324h6v1h-6zM1077 325h1v2h-1zM1078 327h1v2h-1zM1079 329h1v2h-1zM1080 331h1v1h-1zM1081 332h1v1h-1zM1082 333h1v1h-1zM1083 334h1v1h-1zM1084 335h1v1h-1zM1085 336h1v1h-1zM1086 337h1v1h-1zM1087 338h1v1h-1zM1088 339h1v1h-1zM1089 340h1v2h-1zM1090 342h1v1h-1zM1091 343h1v2h-1zM1092 345h1v1h-1zM1093 346h1v2h-1zM1094 348h1v2h-1zM1095 350h1v2h-1zM1096 352h1v2h-1zM1097 354h1v3h-1zM1098 357h1v2h-1zM1099 359h1v3h-1zM1100 362h1v3h-1zM1101 365h1v3h-1zM1102 368h1v4h-1zM1103 372h1v3h-1zM1104 375h1v3h-1zM1105 378h1v2h-1zM1106 380h1v3h-1zM1107 383h1v2h-1zM1108 385h1v3h-1zM1109 388h1v2h-1zM1110 390h1v2h-1zM1111 392h1v2h-1zM1112 394h1v2h-1zM1113 396h1v2h-1zM1114 398h1v2h-1zM1115 400h1v2h-1zM1116 402h1v2h-1zM1117 404h1v2h-1zM1118 406h1v2h-1zM1119 408h1v2h-1zM1120 410h1v2h-1zM1121 412h1v2h-1zM1122 414h1v1h-1zM1123 415h1v2h-1zM1124 417h1v1h-1zM1125 418h2v1h-2zM1127 419h2v1h-2z"/>
<path fill="#0000cd" d="M4 519h1v1h-1zM5 518h1v1h-1zM6 517h2v1h-2zM8 516h1v1h-1zM9 515h2v1h-2zM11 514h2v1h-2zM12 513h1v1h-1zM13 510h1v3h-1zM14 507h1v3h-1zM15 504h1v3h-1zM16 500h1v4h-1zM17 495h1v5h-1zM18 489h1v6h-1zM19 484h1v5h-1zM20 478h1v6h-1zM21 472h1v6h-1zM22 466h1v6h-1zM23 460h1v6h-1zM24 453h1v7h-1zM25 446h1v7h-1zM26 440h1v6h-1zM27 433h1v7h-1zM28 427h1v6h-1zM29 422h1v5h-1zM30 417h1v5h-1zM31 412h1v5h-1zM32 406h1v6h-1zM33 399h1v7h-1zM34 391h1v8h-1zM35 384h1v7h-1zM36 377h1v7h-1zM37 370h1v7h-1zM38 363h1v7h-1zM39 356h1v7h-1zM40 351h1v5h-1zM41 347h1v4h-1zM42 343h1v4h-1zM43 339h1v4h-1zM44 335h1v4h-1zM45 332h1v3h-1zM46 328h1v4h-1zM47 325h1v3h-1zM48 322h1v3h-1zM49 319h1v3h-1zM50 317h1v2h-1zM51 314h1v3h-1zM52 311h1v3h-1zM53 309h1v2h-1zM54 307h1v2h-1zM55 305h1v2h-1zM56 303h1v2h-1zM57 302h1v1h-1zM58 300h1v2h-1zM59 299h1v1h-1zM60 298h1v1h-1zM61 299h1v1h-1zM62 300h2v1h-2zM64 301h6v1h-6zM70 302h3v1h-3zM73 303h1v1h-1zM74 304h1v2h-1zM75 306h1v1h-1zM76 307h1v1h-1zM77 308h2v1h-2zM79 309h2v1h-2zM81 308h1v1h-1zM82 307h1v1h-1zM83 306h1v1h-1zM84 305h1v1h-1zM85 303h1v2h-1zM86 301h1v2h-1zM87 299h1v2h-1zM88 297h1v2h-1zM89 295h1v2h-1zM90 293h1v2h-1zM91 291h1v2h-1zM92 289h1v2h-1zM93 287h1v2h-1zM94 286h1v1h-1zM95 284h1v2h-1zM96 283h1v1h-1zM97 281h1v2h-1zM98 280h1v1h-1zM99 278h1v2h-1zM100 277h1v1h-1zM101 275h1v2h-1zM102 273h1v2h-1zM103 271h1v2h-1zM104 269h1v2h-1zM105 267h1v2h-1zM106 265h1v2h-1zM107 263h1v2h-1zM108 262h1v1h-1zM109 261h1v1h-1zM110 259h1v2h-1zM111 258h1v1h-1zM112 257h2v1h-2zM114 256h4v1h-4zM118 255h3v1h-3zM121 253h1v2h-1zM122 252h1v1h-1zM123 250h1v2h-1zM124 248h1v2h-1zM125 246h1v2h-1zM126 243h1v3h-1zM127 241h1v2h-1zM128 238h1v3h-1zM129 234h1v4h-1zM130 230h1v4h-1zM131 226h1v4h-1zM132 224h1v2h-1zM133 222h1v2h-1zM134 221h1v1h-1zM135 219h1v2h-1zM136 218h1v1h-1zM137 217h1v1h-1zM138 215h1v2h-1zM139 214h1v1h-1zM140 213h1v1h-1zM141 211h1v2h-1zM142 210h1v1h-1zM143 208h1v2h-1zM144 207h1v1h-1zM145 205h1v2h-1zM146 203h1v2h-1zM147 201h1v2h-1zM148 200h5v1h-5zM153 201h1v1h-1zM154 202h1v1h-1zM155 203h1v1h-1zM156 204h1v1h-1zM157 205h1v1h-1zM158 206h2v1h-2zM160 207h1v1h-1zM161 206h1v1h-1zM162 205h1v1h-1zM163 204h1v1h-1zM164 203h1v1h-1zM165 202h2v1h-2zM167 201h2v1h-2zM169 199h1v2h-1zM170 197h1v2h-1zM171 195h1v2h-1zM172 193h1v2h-1zM173 192h2v1h-2zM175 191h2v1h-2zM177 190h1v1h-1zM178 188h1v2h-1zM179 187h1v1h-1zM180 186h1v1h-1zM181 184h1v2h-1zM182 183h1v1h-1zM183 181h1v2h-1zM184 180h1v1h-1zM185 181h1v2h-1zM186 183h1v2h-1zM187 185h1v2h-1zM188 187h1v1h-1zM189 188h1v2h-1zM190 190h1v2h-1zM191 192h1v2h-1zM192 194h1v2h-1zM193 196h1v3h-1zM194 199h1v4h-1zM195 203h1v3h-1zM196 206h1v4h-1zM197 210h1v4h-1zM198 214h1v4h-1zM199 218h1v4h-1zM200 222h1v4h-1zM201 226h1v3h-1zM202 229h1v4h-1zM203 233h1v3h-1zM204 236h1v3h-1zM205 239h1v3h-1zM206 242h1v4h-1zM207 246h1v3h-1zM208 249h1v3h-1zM209 252h1v2h-1zM210 254h1v3h-1zM211 257h1v2h-1zM212 259h1v2h-1zM213 261h2v1h-2zM215 262h2v1h-2zM217 263h2v1h-2zM219 264h2v1h-2zM221 262h1v2h-1zM222 261h1v1h-1zM223 259h1v2h-1zM224 258h2v1h-2zM226 259h3v1h-3zM229 258h2v1h-2zM231 257h2v1h-2zM233 256h1v1h-1zM234 254h1v2h-1zM235 253h1v1h-1zM236 252h2v1h-2zM238 251h4v1h-4zM242 250h3v1h-3zM245 251h2v1h-2zM247 252h2v1h-2zM249 253h2v1h-2zM251 254h6v1h-6zM257 255h1v2h-1zM258 257h1v2h-1zM259 259h1v2h-1zM260 261h1v2h-1zM261 263h1v3h-1zM262 266h1v2h-1zM263 268h1v3h-1zM264 271h1v3h-1zM265 274h1v2h-1zM266 276h1v3h-1zM267 279h1v2h-1zM268 281h1v2h-1zM269 283h1v1h-1zM270 284h1v2h-1zM271 286h1v1h-1zM272 287h1v1h-1zM273 288h1v1h-1zM274 289h1v2h-1zM275 291h1v1h-1zM276 292h1v1h-1zM277 293h1v1h-1zM278 294h2v1h-2zM280 295h1v1h-1zM281 294h1v1h-1zM282 292h1v2h-1zM283 291h1v1h-1zM284 289h1v2h-1zM285 287h1v2h-1zM286 285h1v2h-1zM287 283h1v2h-1zM288 281h1v2h-1zM289 280h1v1h-1zM290 279h1v1h-1zM291 278h1v1h-1zM292 277h1v1h-1zM293 276h1v1h-1zM294 275h2v1h-2zM296 274h2v1h-2zM298 273h3v1h-3zM301 274h1v2h-1zM302 276h1v1h-1zM303 277h1v2h-1zM304 279h2v1h-2zM306 278h3v1h-3zM309 279h1v1h-1zM310 280h1v2h-1zM311 282h1v1h-1zM312 283h1v2h-1zM313 285h1v3h-1zM314 288h1v3h-1zM315 291h1v3h-1zM316 294h1v2h-1zM317 296h1v2h-1zM318 298h1v2h-1zM319 300h1v2h-1zM320 302h1v1h-1zM321 301h2v1h-2zM323 300h2v1h-2zM325 301h1v2h-1zM326 303h1v2h-1zM327 305h1v2h-1zM328 307h1v1h-1zM329 308h2v1h-2zM331 309h2v1h-2zM332 310h1v1h-1zM333 311h1v3h-1zM334 314h1v3h-1zM335 317h1v3h-1zM336 320h1v3h-1zM337 323h1v4h-1zM338 327h1v3h-1zM339 330h1v4h-1zM340 334h1v2h-1zM341 336h1v1h-1zM342 337h1v1h-1zM343 338h1v1h-1zM344 339h1v1h-1zM345 338h1v1h-1zM346 337h2v1h-2zM348 336h1v1h-1zM349 337h1v2h-1zM350 339h1v2h-1zM351 341h1v2h-1zM352 343h1v2h-1zM353 344h1v1h-1zM354 345h7v1h-7zM361 346h1v1h-1zM362 347h1v1h-1zM363 348h1v1h-1zM364 349h2v1h-2zM366 350h3v1h-3zM368 351h1v1h-1zM369 352h1v2h-1zM370 354h1v2h-1zM371 356h1v2h-1zM372 358h1v2h-1zM373 360h1v2h-1zM374 362h1v1h-1zM375 363h1v2h-1zM376 365h1v1h-1zM377 366h1v1h-1zM378 367h2v1h-2zM380 368h1v1h-1zM381 369h2v1h-2zM383 370h2v1h-2zM385 371h1v1h-1zM386 372h1v2h-1zM387 374h2v1h-2zM388 375h1v1h-1zM389 372h1v2h-1zM390 370h1v2h-1zM391 368h1v2h-1zM392 365h1v3h-1zM393 363h1v2h-1zM394 360h1v3h-1zM395 358h1v2h-1zM396 354h1v4h-1zM397 348h1v6h-1zM398 343h1v5h-1zM399 337h1v6h-1zM400 333h1v4h-1zM401 330h1v3h-1zM402 326h1v4h-1zM403 323h1v3h-1zM404 320h1v3h-1zM405 317h1v3h-1zM406 314h1v3h-1zM407 311h1v3h-1zM408 308h1v3h-1zM409 304h1v4h-1zM410 301h1v3h-1zM411 297h1v4h-1zM412 293h1v4h-1zM413 289h1v4h-1zM414 285h1v4h-1zM415 281h1v4h-1zM416 278h1v3h-1zM417 276h1v2h-1zM418 274h1v2h-1zM419 272h1v2h-1zM420 270h1v2h-1zM421 268h1v2h-1zM422 267h1v1h-1zM423 265h1v2h-1zM424 264h2v1h-2zM426 265h3v1h-3zM429 266h1v1h-1zM430 267h2v1h-2zM432 268h1v1h-1zM433 269h1v1h-1zM434 270h1v1h-1zM435 271h1v1h-1zM436 272h1v1h-1zM437 273h1v1h-1zM438 274h2v1h-2zM440 275h1v1h-1zM441 276h1v1h-1zM442 277h1v1h-1zM443 278h1v1h-1zM444 279h2v1h-2zM446 280h7v1h-7zM453 279h1v1h-1zM454 278h2v1h-2zM456 277h1v1h-1zM457 275h1v2h-1zM458 274h1v1h-1zM459 272h1v2h-1zM460 270h1v2h-1zM461 268h1v2h-1zM462 266h1v2h-1zM463 264h1v2h-1zM464 262h1v2h-1zM465 260h1v2h-1zM466 258h1v2h-1zM467 256h1v2h-1zM468 253h1v3h-1zM469 251h1v2h-1zM470 249h1v2h-1zM471 247h1v2h-1zM472 245h1v2h-1zM473 243h1v2h-1zM474 241h1v2h-1zM475 239h1v2h-1zM476 238h1v1h-1zM477 237h1v1h-1zM478 236h1v1h-1zM479 235h1v1h-1zM480 233h1v2h-1zM481 231h1v2h-1zM482 229h1v2h-1zM483 227h1v2h-1zM484 224h1v3h-1zM485 222h1v2h-1zM486 220h1v2h-1zM487 218h1v2h-1zM488 215h1v3h-1zM489 213h1v2h-1zM490 210h1v3h-1zM491 208h1v2h-1zM492 206h1v2h-1zM493 205h1v1h-1zM494 204h2v1h-2zM496 203h1v1h-1zM497 202h1v1h-1zM498 201h2v1h-2zM500 200h1v1h-1zM501 199h1v1h-1zM502 198h1v1h-1zM503 197h1v1h-1zM504 196h1v1h-1zM505 194h1v2h-1zM506 193h1v1h-1zM507 191h1v2h-1zM508 190h1v1h-1zM509 191h1v1h-1zM510 192h2v1h-2zM512 193h1v1h-1zM513 194h1v2h-1zM514 196h1v2h-1zM515 198h1v2h-1zM516 200h1v1h-1zM517 201h1v2h-1zM518 203h1v2h-1zM519 205h1v2h-1zM520 207h1v2h-1zM521 209h1v2h-1zM522 211h1v1h-1zM523 212h1v2h-1zM524 214h1v1h-1zM525 215h1v1h-1zM526 216h1v2h-1zM527 218h1v1h-1zM528 219h1v1h-1zM529 220h1v1h-1zM530 221h1v1h-1zM531 222h1v1h-1zM532 223h1v1h-1zM533 224h1v1h-1zM534 225h1v2h-1zM535 227h1v1h-1zM536 228h2v1h-2zM538 229h3v1h-3zM541 230h1v1h-1zM542 231h1v1h-1zM543 232h1v1h-1zM544 233h2v1h-2zM546 234h3v1h-3zM549 235h2v1h-2zM551 236h6v1h-6zM557 235h1v1h-1zM558 234h1v1h-1zM559 233h1v1h-1zM560 232h1v1h-1zM561 231h1v1h-1zM562 229h1v2h-1zM563 228h1v1h-1zM564 226h1v2h-1zM565 223h1v3h-1zM566 221h1v2h-1zM567 218h1v3h-1zM568 215h1v3h-1zM569 212h1v3h-1zM570 210h1v2h-1zM571 207h1v3h-1zM572 204h1v3h-1zM573 202h1v2h-1zM574 199h1v3h-1zM575 197h1v2h-1zM576 194h1v3h-1zM577 191h1v3h-1zM578 188h1v3h-1zM579 185h1v3h-1zM580 182h1v3h-1zM581 180h1v2h-1zM582 178h1v2h-1zM583 176h1v2h-1zM584 174h1v2h-1zM585 174h1v1h-1zM586 175h7v1h-7zM592 176h1v1h-1zM593 177h1v2h-1zM594 179h1v3h-1zM595 182h1v2h-1zM596 184h1v2h-1zM597 186h1v1h-1zM598 187h1v2h-1zM599 189h1v1h-1zM600 190h1v1h-1zM601 191h1v2h-1zM602 193h1v2h-1zM603 195h1v2h-1zM604 197h1v3h-1zM605 200h1v3h-1zM606 203h1v3h-1zM607 206h1v3h-1zM608 209h1v4h-1zM609 213h1v4h-1zM610 217h1v5h-1zM611 222h1v4h-1zM612 226h1v4h-1zM613 230h1v3h-1zM614 233h1v3h-1zM615 236h1v3h-1zM616 239h1v3h-1zM617 242h1v3h-1zM618 245h1v2h-1zM619 247h1v3h-1zM620 250h1v3h-1zM621 253h1v2h-1zM622 255h1v2h-1zM623 257h1v2h-1zM624 259h1v3h-1zM625 262h1v2h-1zM626 264h1v3h-1zM627 267h1v2h-1zM628 269h1v2h-1zM629 271h1v2h-1zM630 273h1v2h-1zM631 275h1v2h-1zM632 277h1v2h-1zM633 279h1v1h-1zM634 280h1v2h-1zM635 282h1v1h-1zM636 283h1v1h-1zM637 282h1v1h-1zM638 281h1v1h-1zM639 280h1v1h-1zM640 279h1v1h-1zM641 278h1v1h-1zM642 276h1v2h-1zM643 275h1v1h-1zM644 274h2v1h-2zM646 273h3v1h-3zM649 271h1v2h-1zM650 270h1v1h-1zM651 268h1v2h-1zM652 267h1v1h-1zM653 265h1v2h-1zM654 264h1v1h-1zM655 262h1v2h-1zM656 261h1v1h-1zM657 260h1v1h-1zM658 259h1v1h-1zM659 258h1v1h-1zM660 257h1v1h-1zM661 256h1v1h-1zM662 254h1v2h-1zM663 253h1v1h-1zM664 252h1v1h-1zM665 250h1v2h-1zM666 249h1v1h-1zM667 247h1v2h-1zM668 246h1v1h-1zM669 245h1v1h-1zM670 244h1v1h-1zM671 243h1v1h-1zM672 242h1v1h-1zM673 241h1v1h-1zM674 240h1v1h-1zM675 239h1v1h-1zM676 238h2v1h-2zM678 237h3v1h-3zM681 236h1v1h-1zM682 235h1v1h-1zM683 234h1v1h-1zM684 233h1v1h-1zM685 231h1v2h-1zM686 230h1v1h-1zM687 228h1v2h-1zM688 227h1v1h-1zM689 226h1v1h-1zM690 225h2v1h-2zM692 224h1v1h-1zM693 223h1v1h-1zM694 222h2v1h-2zM696 221h1v1h-1zM697 220h1v1h-1zM698 219h1v1h-1zM699 218h1v1h-1zM700 216h1v2h-1zM701 214h1v2h-1zM702 212h1v2h-1zM703 210h1v2h-1zM704 207h1v3h-1zM705 204h1v3h-1zM706 201h1v3h-1zM707 198h1v3h-1zM708 195h1v3h-1zM709 191h1v4h-1zM710 188h1v3h-1zM711 184h1v4h-1zM712 181h1v3h-1zM713 178h1v3h-1zM714 174h1v4h-1zM715 171h1v3h-1zM716 168h1v3h-1zM717 164h1v4h-1zM718 161h1v3h-1zM719 157h1v4h-1zM720 153h1v4h-1zM721 148h1v5h-1zM722 144h1v4h-1zM723 139h1v5h-1zM724 134h1v5h-1zM725 130h1v4h-1zM726 125h1v5h-1zM727 121h1v4h-1zM728 117h1v4h-1zM729 114h1v3h-1zM730 110h1v4h-1zM731 107h1v3h-1zM732 104h1v3h-1zM733 102h1v2h-1zM734 100h1v2h-1zM735 98h1v2h-1zM736 96h1v2h-1zM737 95h1v1h-1zM738 94h1v1h-1zM739 93h1v1h-1zM740 92h1v1h-1zM741 90h1v2h-1zM742 89h1v1h-1zM743 87h1v2h-1zM744 86h1v1h-1zM745 85h1v1h-1zM746 84h1v1h-1zM747 83h1v1h-1zM748 82h1v1h-1zM749 83h1v1h-1zM750 84h2v1h-2zM752 85h2v1h-2zM754 86h3v1h-3zM757 87h1v1h-1zM758 88h2v1h-2zM760 89h1v1h-1zM761 90h2v1h-2zM763 91h2v1h-2zM765 92h2v1h-2zM767 93h7v1h-7zM774 92h3v1h-3zM777 93h2v1h-2zM779 94h2v1h-2zM781 95h1v2h-1zM782 97h1v2h-1zM783 99h1v2h-1zM784 101h1v1h-1zM785 102h1v2h-1zM786 104h1v2h-1zM787 106h1v2h-1zM788 108h1v3h-1zM789 111h1v3h-1zM790 114h1v3h-1zM791 117h1v3h-1zM792 120h1v3h-1zM793 123h1v2h-1zM794 125h1v3h-1zM795 128h1v2h-1zM796 130h1v3h-1zM797 133h1v3h-1zM798 136h1v3h-1zM799 139h1v3h-1zM800 142h1v3h-1zM801 145h1v3h-1zM802 148h1v2h-1zM803 150h1v3h-1zM804 153h1v2h-1zM805 155h1v1h-1zM806 156h1v2h-1zM807 158h1v1h-1zM808 159h1v1h-1zM809 160h2v1h-2zM811 161h2v1h-2zM813 162h2v1h-2zM815 163h2v1h-2zM817 161h1v2h-1zM818 160h1v1h-1zM819 158h1v2h-1zM820 157h5v1h-5zM825 158h1v1h-1zM826 159h1v2h-1zM827 161h1v1h-1zM828 162h1v2h-1zM829 164h1v2h-1zM830 166h1v3h-1zM831 169h1v2h-1zM832 171h1v3h-1zM833 174h1v2h-1zM834 176h1v3h-1zM835 179h1v2h-1zM836 181h1v2h-1zM837 183h1v2h-1zM838 185h1v2h-1zM839 187h1v2h-1zM840 189h2v1h-2zM842 190h3v1h-3zM845 191h1v1h-1zM846 192h2v1h-2zM848 193h1v1h-1zM849 194h2v1h-2zM851 195h2v1h-2zM853 196h1v1h-1zM854 197h2v1h-2zM856 198h1v1h-1zM857 199h2v1h-2zM859 200h2v1h-2zM860 201h1v1h-1zM861 202h1v2h-1zM862 204h1v3h-1zM863 207h1v2h-1zM864 209h1v3h-1zM865 212h1v3h-1zM866 215h1v4h-1zM867 219h1v3h-1zM868 222h1v3h-1zM869 225h1v4h-1zM870 229h1v3h-1zM871 232h1v4h-1zM872 236h1v4h-1zM873 240h1v4h-1zM874 244h1v5h-1zM875 249h1v4h-1zM876 253h1v5h-1zM877 258h1v6h-1zM878 264h1v6h-1zM879 270h1v6h-1zM880 276h1v4h-1zM881 280h1v3h-1zM882 283h1v2h-1zM883 285h1v3h-1zM884 288h1v3h-1zM885 291h1v3h-1zM886 294h1v2h-1zM887 296h1v3h-1zM888 299h1v2h-1zM889 300h4v1h-4zM893 299h1v1h-1zM894 298h2v1h-2zM896 297h2v1h-2zM898 298h3v1h-3zM900 297h1v1h-1zM901 295h1v2h-1zM902 293h1v2h-1zM903 291h1v2h-1zM904 288h1v3h-1zM905 285h1v3h-1zM906 281h1v4h-1zM907 278h1v3h-1zM908 275h1v3h-1zM909 273h1v2h-1zM910 271h1v2h-1zM911 269h1v2h-1zM912 266h1v3h-1zM913 263h1v3h-1zM914 259h1v4h-1zM915 256h1v3h-1zM916 254h5v1h-5zM916 255h1v1h-1zM920 255h1v1h-1zM921 256h1v4h-1zM922 260h1v4h-1zM923 264h1v4h-1zM924 268h1v4h-1zM925 272h1v4h-1zM926 276h1v5h-1zM927 281h1v4h-1zM928 285h1v6h-1zM929 291h1v6h-1zM930 297h1v7h-1zM931 304h1v6h-1zM932 310h1v7h-1zM933 317h1v7h-1zM934 324h1v8h-1zM935 332h1v7h-1zM936 339h1v7h-1zM937 346h1v6h-1zM938 352h1v6h-1zM939 358h1v6h-1zM940 364h1v7h-1zM941 371h1v6h-1zM942 377h1v7h-1zM943 384h1v6h-1zM944 390h1v6h-1zM945 396h1v4h-1zM946 400h1v4h-1zM947 404h1v4h-1zM948 408h1v3h-1zM949 411h1v2h-1zM950 413h1v1h-1zM951 414h1v2h-1zM952 416h1v1h-1zM953 415h1v1h-1zM954 414h2v1h-2zM956 412h1v2h-1zM957 409h1v3h-1zM958 405h1v4h-1zM959 402h1v3h-1zM960 399h1v3h-1zM961 395h1v4h-1zM962 392h1v3h-1zM963 388h1v4h-1zM964 385h1v3h-1zM965 382h1v3h-1zM966 379h1v3h-1zM967 376h1v3h-1zM968 374h1v2h-1zM969 372h1v2h-1zM970 370h1v2h-1zM971 368h1v2h-1zM972 365h1v3h-1zM973 361h1v4h-1zM974 357h1v4h-1zM975 353h1v4h-1zM976 348h1v5h-1zM977 344h1v4h-1zM978 340h1v4h-1zM979 336h1v4h-1zM980 332h1v4h-1zM981 328h1v4h-1zM982 324h1v4h-1zM983 320h1v4h-1zM984 317h1v3h-1zM985 315h1v2h-1zM986 314h1v1h-1zM987 312h1v2h-1zM988 311h1v1h-1zM989 310h1v1h-1zM990 309h2v1h-2zM992 308h1v1h-1zM993 306h1v2h-1zM994 305h1v1h-1zM995 303h1v2h-1zM996 302h2v1h-2zM998 303h3v1h-3zM1001 304h1v2h-1zM1002 306h1v2h-1zM1003 308h1v2h-1zM1004 310h1v2h-1zM1005 312h1v2h-1zM1006 314h1v2h-1zM1007 316h1v2h-1zM1008 318h1v1h-1zM1009 319h1v2h-1zM1010 321h1v2h-1zM1011 323h1v2h-1zM1012 325h1v1h-1zM1013 326h1v2h-1zM1014 328h1v2h-1zM1015 330h1v2h-1zM1016 332h1v1h-1zM1017 333h1v2h-1zM1018 335h1v1h-1zM1019 336h1v2h-1zM1020 338h1v2h-1zM1021 340h1v2h-1zM1022 342h1v2h-1zM1023 344h1v2h-1zM1024 346h1v2h-1zM1025 347h1v1h-1zM1026 348h3v1h-3zM1029 349h2v1h-2zM1031 350h3v1h-3zM1034 349h3v1h-3zM1037 350h1v1h-1zM1038 351h1v1h-1zM1039 352h1v1h-1zM1040 353h1v1h-1zM1041 352h1v1h-1zM1042 350h1v2h-1zM1043 349h1v1h-1zM1044 347h1v2h-1zM1045 344h1v3h-1zM1046 341h1v3h-1zM1047 338h1v3h-1zM1048 335h1v3h-1zM1049 332h1v3h-1zM1050 329h1v3h-1zM1051 326h1v3h-1zM1052 323h1v3h-1zM1053 321h1v2h-1zM1054 318h1v3h-1zM1055 316h1v2h-1zM1056 314h1v2h-1zM1057 312h1v2h-1zM1058 310h1v2h-1zM1059 308h1v2h-1zM1060 305h1v3h-1zM1061 303h1v2h-1zM1062 301h1v2h-1zM1063 299h1v2h-1zM1064 297h1v2h-1zM1065 295h1v2h-1zM1066 294h1v1h-1zM1067 292h1v2h-1zM1068 291h1v2h-1zM1069 293h1v2h-1zM1070 295h1v3h-1zM1071 298h1v2h-1zM1072 300h1v3h-1zM1073 303h1v3h-1zM1074 306h1v3h-1zM1075 309h1v3h-1zM1076 312h1v5h-1zM1077 317h1v6h-1zM1078 323h1v6h-1zM1079 329h1v6h-1zM1080 335h1v6h-1zM1081 341h1v4h-1zM1082 345h1v4h-1zM1083 349h1v4h-1zM1084 353h1v5h-1zM1085 358h1v4h-1zM1086 362h1v4h-1zM1087 366h1v4h-1zM1088 370h1v5h-1zM1089 375h1v5h-1zM1090 380h1v6h-1zM1091 386h1v5h-1zM1092 391h1v5h-1zM1093 396h1v5h-1zM1094 401h1v5h-1zM1095 406h1v5h-1zM1096 411h1v4h-1zM1097 415h1v3h-1zM1098 418h1v3h-1zM1099 421h1v3h-1zM1100 424h1v3h-1zM1101 427h1v4h-1zM1102 431h1v3h-1zM1103 434h1v4h-1zM1104 438h1v2h-1zM1105 437h1v2h-1zM1106 436h1v1h-1zM1107 434h1v2h-1zM1108 433h1v1h-1zM1109 434h1v1h-1zM1110 435h2v1h-2zM1112 436h1v1h-1zM1113 435h2v1h-2zM1115 434h2v1h-2zM1117 433h1v1h-1zM1118 431h1v2h-1zM1119 430h1v1h-1zM1120 429h1v1h-1zM1121 427h1v2h-1zM1122 425h1v2h-1zM1123 423h1v2h-1zM1124 421h1v2h-1zM1125 419h1v2h-1zM1126 417h1v2h-1zM1127 415h1v2h-1zM1128 413h1v2h-1z"/>
<rect x="4" y="138" width="1417" height="3" fill="#ff0000"/>
<rect x="4" y="221" width="1417" height="3" fill="#ff0000"/>
<rect x="4" y="381" width="1417" height="3" fill="#00ff00"/>
<rect x="4" y="457" width="1417" height="3" fill="#0000ff"/>
<rect x="3" y="379" width="7" height="7" fill="#00ff00"/><rect x="6" y="382" width="1" height="1" fill="#ffffff"/>
<rect x="1413" y="379" width="7" height="7" fill="#00ff00"/><rect x="1416" y="382" width="1" height="1" fill="#ffffff"/>
</g>
<rect x="1420" y="385" width="41" height="11" fill="#000000"/>
<text x="1425.5" y="395" font-size="9.9" fill="#fff" stroke="#fff" stroke-width="0.12" textLength="32.5" lengthAdjust="spacingAndGlyphs"  xml:space="preserve">0.97898</text>
<rect x="1421" y="133" width="40" height="11" fill="#ff0000"/>
<text x="1425.5" y="142" font-size="9.9" fill="#fff" stroke="#fff" stroke-width="0.12" textLength="32.5" lengthAdjust="spacingAndGlyphs"  xml:space="preserve">1.01205</text>
<rect x="1421" y="216" width="40" height="11" fill="#ff0000"/>
<text x="1425.5" y="225" font-size="9.9" fill="#fff" stroke="#fff" stroke-width="0.12" textLength="32.5" lengthAdjust="spacingAndGlyphs"  xml:space="preserve">1.00106</text>
<rect x="1421" y="376" width="40" height="11" fill="#00ff00"/>
<text x="1425.5" y="385" font-size="9.9" fill="#fff" stroke="#fff" stroke-width="0.12" textLength="32.5" lengthAdjust="spacingAndGlyphs"  xml:space="preserve">0.98000</text>
<rect x="1421" y="452" width="40" height="11" fill="#0000ff"/>
<text x="1425.5" y="461" font-size="9.9" fill="#fff" stroke="#fff" stroke-width="0.12" textLength="32.5" lengthAdjust="spacingAndGlyphs"  xml:space="preserve">0.97001</text>
<path d="M7 31h8l-4 4.5z" fill="#000" shape-rendering="auto"/>
<text x="19" y="36" font-size="9.9" fill="#000" stroke="#000" stroke-width="0.12" textLength="67.4" lengthAdjust="spacingAndGlyphs"  xml:space="preserve">USDCHF-,Daily</text>
<text x="93.3" y="36" font-size="9.9" fill="#000" stroke="#000" stroke-width="0.12" textLength="140.7" lengthAdjust="spacingAndGlyphs"  xml:space="preserve">0.97920 0.97946 0.97889 0.97898</text>
<path fill="#c0c0c0" d="M4 612h1v36h-1zM8 612h1v34h-1zM12 612h1v32h-1zM16 612h1v23h-1zM20 612h1v14h-1zM24 612h1v6h-1zM28 610h1v3h-1zM32 604h1v9h-1zM36 594h1v19h-1zM40 587h1v26h-1zM44 583h1v30h-1zM48 579h1v34h-1zM52 576h1v37h-1zM56 574h1v39h-1zM60 576h1v37h-1zM64 576h1v37h-1zM68 576h1v37h-1zM72 577h1v36h-1zM76 580h1v33h-1zM80 580h1v33h-1zM84 579h1v34h-1zM88 577h1v36h-1zM92 576h1v37h-1zM96 576h1v37h-1zM100 576h1v37h-1zM104 578h1v35h-1zM108 578h1v35h-1zM112 577h1v36h-1zM116 578h1v35h-1zM120 579h1v34h-1zM124 577h1v36h-1zM128 575h1v38h-1zM132 571h1v42h-1zM136 573h1v40h-1zM140 573h1v40h-1zM144 575h1v38h-1zM148 575h1v38h-1zM152 578h1v35h-1zM156 580h1v33h-1zM160 580h1v33h-1zM164 580h1v33h-1zM168 581h1v32h-1zM172 579h1v34h-1zM176 580h1v33h-1zM180 582h1v31h-1zM184 583h1v30h-1zM188 588h1v25h-1zM192 593h1v20h-1zM196 600h1v13h-1zM200 605h1v8h-1zM204 609h1v4h-1zM208 612h1v2h-1zM212 612h1v2h-1zM216 612h1v3h-1zM220 612h1v3h-1zM224 612h1v3h-1zM228 612h1v6h-1zM232 612h1v6h-1zM236 612h1v5h-1zM240 612h1v4h-1zM244 612h1v4h-1zM248 612h1v4h-1zM252 612h1v5h-1zM256 612h1v7h-1zM260 612h1v11h-1zM264 612h1v14h-1zM268 612h1v16h-1zM272 612h1v15h-1zM276 612h1v15h-1zM280 612h1v14h-1zM284 612h1v10h-1zM288 612h1v8h-1zM292 612h1v8h-1zM296 612h1v9h-1zM300 612h1v9h-1zM304 612h1v12h-1zM308 612h1v10h-1zM312 612h1v9h-1zM316 612h1v13h-1zM320 612h1v16h-1zM324 612h1v13h-1zM328 612h1v15h-1zM332 612h1v17h-1zM336 612h1v19h-1zM340 612h1v23h-1zM344 612h1v25h-1zM348 612h1v22h-1zM352 612h1v20h-1zM356 612h1v19h-1zM360 612h1v19h-1zM364 612h1v22h-1zM368 612h1v23h-1zM372 612h1v28h-1zM376 612h1v26h-1zM380 612h1v24h-1zM384 612h1v22h-1zM388 612h1v21h-1zM392 612h1v17h-1zM396 612h1v13h-1zM400 612h1v6h-1zM404 612h1v1h-1zM408 607h1v6h-1zM412 603h1v10h-1zM416 599h1v14h-1zM420 598h1v15h-1zM424 597h1v16h-1zM428 598h1v15h-1zM432 599h1v14h-1zM436 600h1v13h-1zM440 600h1v13h-1zM444 600h1v13h-1zM448 600h1v13h-1zM452 600h1v13h-1zM456 599h1v14h-1zM460 598h1v15h-1zM464 596h1v17h-1zM468 593h1v20h-1zM472 591h1v22h-1zM476 591h1v22h-1zM480 591h1v22h-1zM484 589h1v24h-1zM488 587h1v26h-1zM492 584h1v29h-1zM496 584h1v29h-1zM500 584h1v29h-1zM504 585h1v28h-1zM508 586h1v27h-1zM512 589h1v24h-1zM516 592h1v21h-1zM520 594h1v19h-1zM524 597h1v16h-1zM528 599h1v14h-1zM532 601h1v12h-1zM536 602h1v11h-1zM540 603h1v10h-1zM544 606h1v7h-1zM548 607h1v6h-1zM552 608h1v5h-1zM556 609h1v4h-1zM560 607h1v6h-1zM564 605h1v8h-1zM568 600h1v13h-1zM572 598h1v15h-1zM576 596h1v17h-1zM580 594h1v19h-1zM584 594h1v19h-1zM588 596h1v17h-1zM592 598h1v15h-1zM596 601h1v12h-1zM600 603h1v10h-1zM604 605h1v8h-1zM608 609h1v4h-1zM612 612h1v5h-1zM616 612h1v10h-1zM620 612h1v12h-1zM624 612h1v14h-1zM628 612h1v17h-1zM632 612h1v17h-1zM636 612h1v17h-1zM640 612h1v17h-1zM644 612h1v16h-1zM648 612h1v15h-1zM652 612h1v12h-1zM656 612h1v11h-1zM660 612h1v10h-1zM664 612h1v7h-1zM668 612h1v5h-1zM672 612h1v3h-1zM676 612h1v3h-1zM680 612h1v2h-1zM684 610h1v3h-1zM688 608h1v5h-1zM692 607h1v6h-1zM696 606h1v7h-1zM700 604h1v9h-1zM704 601h1v12h-1zM708 597h1v16h-1zM712 591h1v22h-1zM716 587h1v26h-1zM720 584h1v29h-1zM724 579h1v34h-1zM728 575h1v38h-1zM732 573h1v40h-1zM736 572h1v41h-1zM740 572h1v41h-1zM744 572h1v41h-1zM748 573h1v40h-1zM752 575h1v38h-1zM756 576h1v37h-1zM760 578h1v35h-1zM764 581h1v32h-1zM768 583h1v30h-1zM772 583h1v30h-1zM776 583h1v30h-1zM780 587h1v26h-1zM784 592h1v21h-1zM788 597h1v16h-1zM792 604h1v9h-1zM796 608h1v5h-1zM800 611h1v2h-1zM804 612h1v1h-1zM808 612h1v2h-1zM812 612h1v3h-1zM816 612h1v4h-1zM820 612h1v4h-1zM824 612h1v5h-1zM828 612h1v10h-1zM832 612h1v14h-1zM836 612h1v17h-1zM840 612h1v17h-1zM844 612h1v16h-1zM848 612h1v14h-1zM852 612h1v13h-1zM856 612h1v16h-1zM860 612h1v19h-1zM864 612h1v25h-1zM868 612h1v29h-1zM872 612h1v31h-1zM876 612h1v34h-1zM880 612h1v39h-1zM884 612h1v40h-1zM888 612h1v41h-1zM892 612h1v40h-1zM896 612h1v37h-1zM900 612h1v35h-1zM904 612h1v29h-1zM908 612h1v25h-1zM912 612h1v22h-1zM916 612h1v18h-1zM920 612h1v19h-1zM924 612h1v26h-1zM928 612h1v34h-1zM932 612h1v41h-1zM936 612h1v48h-1zM940 612h1v51h-1zM944 612h1v51h-1zM948 612h1v51h-1zM952 612h1v52h-1zM956 612h1v49h-1zM960 612h1v42h-1zM964 612h1v37h-1zM968 612h1v32h-1zM972 612h1v29h-1zM976 612h1v22h-1zM980 612h1v17h-1zM984 612h1v11h-1zM988 612h1v6h-1zM992 612h1v6h-1zM996 612h1v4h-1zM1000 612h1v6h-1zM1004 612h1v8h-1zM1008 612h1v9h-1zM1012 612h1v7h-1zM1016 612h1v7h-1zM1020 612h1v9h-1zM1024 612h1v11h-1zM1028 612h1v12h-1zM1032 612h1v12h-1zM1036 612h1v11h-1zM1040 612h1v11h-1zM1044 612h1v6h-1zM1048 612h1v1h-1zM1052 608h1v5h-1zM1056 607h1v6h-1zM1060 606h1v7h-1zM1064 604h1v9h-1zM1068 604h1v9h-1zM1072 609h1v4h-1zM1076 612h1v2h-1zM1080 612h1v12h-1zM1084 612h1v16h-1zM1088 612h1v20h-1zM1092 612h1v23h-1zM1096 612h1v27h-1zM1100 612h1v30h-1zM1104 612h1v33h-1zM1108 612h1v31h-1zM1112 612h1v31h-1zM1116 612h1v29h-1zM1120 612h1v25h-1zM1124 612h1v22h-1zM1128 612h1v19h-1z"/>
<path fill="#ff0000" d="M4 651h2v1h-2zM6 650h1v1h-1zM10 649h3v1h-3zM16 647h1v1h-1zM17 646h1v1h-1zM18 645h1v1h-1zM22 642h1v1h-1zM23 641h1v1h-1zM24 640h1v1h-1zM28 636h1v1h-1zM29 635h1v1h-1zM30 634h1v1h-1zM33 629h1v2h-1zM34 628h1v1h-1zM36 624h1v1h-1zM37 622h1v2h-1zM40 618h1v1h-1zM41 616h1v2h-1zM43 612h1v1h-1zM44 611h1v1h-1zM45 610h1v1h-1zM47 605h1v2h-1zM48 604h1v1h-1zM50 600h1v1h-1zM51 598h1v2h-1zM54 594h1v1h-1zM55 593h1v1h-1zM56 592h1v1h-1zM59 588h1v1h-1zM60 587h1v1h-1zM61 586h1v1h-1zM65 582h1v1h-1zM66 581h2v1h-2zM71 578h3v1h-3zM77 577h3v1h-3zM83 577h3v1h-3zM89 577h3v1h-3zM95 577h3v1h-3zM101 577h1v1h-1zM102 578h2v1h-2zM107 578h3v1h-3zM113 577h3v1h-3zM119 577h3v1h-3zM125 577h3v1h-3zM131 576h3v1h-3zM137 576h3v1h-3zM143 575h3v1h-3zM149 575h3v1h-3zM155 575h3v1h-3zM161 576h3v1h-3zM167 577h3v1h-3zM173 578h1v1h-1zM174 579h2v1h-2zM179 580h3v1h-3zM185 580h1v1h-1zM186 581h2v1h-2zM191 583h2v1h-2zM193 584h1v1h-1zM197 586h1v1h-1zM198 587h2v1h-2zM203 590h1v1h-1zM204 591h1v1h-1zM205 592h1v1h-1zM209 596h1v1h-1zM210 597h2v1h-2zM215 601h1v1h-1zM216 602h1v1h-1zM217 603h1v1h-1zM221 607h2v1h-2zM223 608h1v1h-1zM227 610h1v1h-1zM228 611h1v1h-1zM229 612h1v1h-1zM233 613h1v1h-1zM234 614h2v1h-2zM239 615h3v1h-3zM245 615h3v1h-3zM251 615h3v1h-3zM257 616h1v1h-1zM258 617h2v1h-2zM263 618h3v1h-3zM269 619h1v1h-1zM270 620h2v1h-2zM275 621h3v1h-3zM281 622h1v1h-1zM282 623h2v1h-2zM287 623h3v1h-3zM293 623h3v1h-3zM299 623h3v1h-3zM305 622h3v1h-3zM311 621h3v1h-3zM317 621h1v1h-1zM318 622h2v1h-2zM323 622h3v1h-3zM329 623h1v1h-1zM330 624h2v1h-2zM335 625h3v1h-3zM341 627h2v1h-2zM343 628h1v1h-1zM347 629h3v1h-3zM353 630h3v1h-3zM359 631h3v1h-3zM365 632h3v1h-3zM371 633h3v1h-3zM377 634h3v1h-3zM383 634h3v1h-3zM389 634h1v1h-1zM390 633h2v1h-2zM395 633h2v1h-2zM397 632h1v1h-1zM401 630h2v1h-2zM403 629h1v1h-1zM407 626h1v1h-1zM408 625h1v1h-1zM409 624h1v1h-1zM413 620h1v1h-1zM414 619h1v1h-1zM415 618h1v1h-1zM419 614h1v1h-1zM420 613h1v1h-1zM421 612h1v1h-1zM425 609h1v1h-1zM426 608h1v1h-1zM427 607h1v1h-1zM431 604h1v1h-1zM432 603h1v1h-1zM433 602h1v1h-1zM437 601h1v1h-1zM438 600h2v1h-2zM443 599h3v1h-3zM449 599h3v1h-3zM455 599h3v1h-3zM461 599h3v1h-3zM467 598h3v1h-3zM473 597h1v1h-1zM474 596h2v1h-2zM479 595h3v1h-3zM485 594h1v1h-1zM486 593h2v1h-2zM491 591h2v1h-2zM493 590h1v1h-1zM497 589h1v1h-1zM498 588h2v1h-2zM503 587h3v1h-3zM509 587h1v1h-1zM510 586h2v1h-2zM515 587h3v1h-3zM521 587h1v1h-1zM522 588h2v1h-2zM527 590h2v1h-2zM529 591h1v1h-1zM533 593h2v1h-2zM535 594h1v1h-1zM539 596h2v1h-2zM541 597h1v1h-1zM545 599h2v1h-2zM547 600h1v1h-1zM551 602h2v1h-2zM553 603h1v1h-1zM557 604h1v1h-1zM558 605h2v1h-2zM563 605h3v1h-3zM569 605h3v1h-3zM575 604h3v1h-3zM581 602h2v1h-2zM583 601h1v1h-1zM587 600h3v1h-3zM593 599h1v1h-1zM594 598h2v1h-2zM599 598h3v1h-3zM605 599h2v1h-2zM607 600h1v1h-1zM611 602h2v1h-2zM613 603h1v1h-1zM617 606h1v1h-1zM618 607h2v1h-2zM623 610h1v1h-1zM624 611h1v1h-1zM625 612h1v1h-1zM629 616h1v1h-1zM630 617h2v1h-2zM635 620h2v1h-2zM637 621h1v1h-1zM641 624h2v1h-2zM643 625h1v1h-1zM647 626h3v1h-3zM653 626h3v1h-3zM659 626h3v1h-3zM665 624h2v1h-2zM667 623h1v1h-1zM671 622h2v1h-2zM673 621h1v1h-1zM677 620h1v1h-1zM678 619h2v1h-2zM683 617h2v1h-2zM685 616h1v1h-1zM689 615h1v1h-1zM690 614h2v1h-2zM695 612h2v1h-2zM697 611h1v1h-1zM701 610h1v1h-1zM702 609h2v1h-2zM707 607h2v1h-2zM709 606h1v1h-1zM713 603h1v1h-1zM714 602h2v1h-2zM719 599h1v1h-1zM720 598h1v1h-1zM721 597h1v1h-1zM725 594h1v1h-1zM726 593h2v1h-2zM731 589h1v1h-1zM732 588h1v1h-1zM733 587h1v1h-1zM737 584h1v1h-1zM738 583h1v1h-1zM739 582h1v1h-1zM743 579h2v1h-2zM745 578h1v1h-1zM749 576h2v1h-2zM751 575h1v1h-1zM755 574h3v1h-3zM761 574h1v1h-1zM762 575h2v1h-2zM767 576h3v1h-3zM773 577h1v1h-1zM774 578h2v1h-2zM779 580h2v1h-2zM781 581h1v1h-1zM785 583h2v1h-2zM787 584h1v1h-1zM791 586h1v1h-1zM792 587h1v1h-1zM793 588h1v1h-1zM797 592h1v1h-1zM798 593h2v1h-2zM803 596h1v1h-1zM804 597h1v1h-1zM805 598h1v1h-1zM809 602h1v1h-1zM810 603h2v1h-2zM815 606h1v1h-1zM816 607h1v1h-1zM817 608h1v1h-1zM821 611h2v1h-2zM823 612h1v1h-1zM827 614h2v1h-2zM829 615h1v1h-1zM833 617h2v1h-2zM835 618h1v1h-1zM839 619h2v1h-2zM841 620h1v1h-1zM845 621h1v1h-1zM846 622h2v1h-2zM851 623h3v1h-3zM857 625h2v1h-2zM859 626h1v1h-1zM863 628h3v1h-3zM869 630h2v1h-2zM871 631h1v1h-1zM875 633h2v1h-2zM877 634h1v1h-1zM881 636h1v1h-1zM882 637h2v1h-2zM887 641h1v1h-1zM888 642h1v1h-1zM889 643h1v1h-1zM893 645h2v1h-2zM895 646h1v1h-1zM899 647h3v1h-3zM905 647h3v1h-3zM911 645h2v1h-2zM913 644h1v1h-1zM917 642h1v1h-1zM918 641h2v1h-2zM923 639h3v1h-3zM929 638h1v1h-1zM930 639h2v1h-2zM935 640h2v1h-2zM937 641h1v1h-1zM941 643h1v1h-1zM942 644h2v1h-2zM947 648h1v1h-1zM948 649h1v1h-1zM949 650h1v1h-1zM953 653h1v1h-1zM954 654h1v1h-1zM955 655h1v1h-1zM959 657h3v1h-3zM965 658h1v1h-1zM966 657h2v1h-2zM971 655h2v1h-2zM973 654h1v1h-1zM977 651h1v1h-1zM978 650h1v1h-1zM979 649h1v1h-1zM982 645h1v1h-1zM983 644h1v1h-1zM984 643h1v1h-1zM987 639h1v1h-1zM988 638h1v1h-1zM989 637h1v1h-1zM992 633h1v1h-1zM993 632h1v1h-1zM994 631h1v1h-1zM998 627h2v1h-2zM1000 626h1v1h-1zM1004 623h1v1h-1zM1005 622h2v1h-2zM1010 620h1v1h-1zM1011 619h2v1h-2zM1016 618h3v1h-3zM1022 618h3v1h-3zM1028 619h2v1h-2zM1030 620h1v1h-1zM1034 621h3v1h-3zM1040 621h3v1h-3zM1046 620h3v1h-3zM1052 619h1v1h-1zM1053 618h2v1h-2zM1058 616h3v1h-3zM1064 614h1v1h-1zM1065 613h1v1h-1zM1066 612h1v1h-1zM1070 610h3v1h-3zM1076 609h3v1h-3zM1082 610h1v1h-1zM1083 611h2v1h-2zM1088 614h1v1h-1zM1089 615h1v1h-1zM1090 616h1v1h-1zM1094 619h2v1h-2zM1096 620h1v1h-1zM1100 624h1v1h-1zM1101 625h1v1h-1zM1102 626h1v1h-1zM1105 630h1v1h-1zM1106 631h2v1h-2zM1111 635h1v1h-1zM1112 636h1v1h-1zM1113 637h1v1h-1zM1117 638h1v1h-1zM1118 639h2v1h-2zM1123 639h3v1h-3z"/>
<text x="8.5" y="578" font-size="9.9" fill="#000" stroke="#000" stroke-width="0.12" textLength="65.4" lengthAdjust="spacingAndGlyphs"  xml:space="preserve">MACD(12,26,9)</text>
<text x="76.8" y="578" font-size="9.9" fill="#000" stroke="#000" stroke-width="0.12" textLength="40.7" lengthAdjust="spacingAndGlyphs"  xml:space="preserve">-0.002520</text>
<text x="121" y="578" font-size="9.9" fill="#000" stroke="#000" stroke-width="0.12" textLength="40.7" lengthAdjust="spacingAndGlyphs"  xml:space="preserve">-0.003631</text>
<path fill="#1e90ff" d="M4 744h6v1h-6zM10 745h3v1h-3zM12 743h1v2h-1zM13 738h1v5h-1zM14 732h1v6h-1zM15 727h1v5h-1zM16 724h1v3h-1zM17 723h1v1h-1zM18 722h2v1h-2zM20 721h1v1h-1zM21 720h2v1h-2zM23 719h2v1h-2zM25 718h1v1h-1zM26 717h2v1h-2zM28 716h5v1h-5zM32 715h1v1h-1zM33 713h1v2h-1zM34 711h1v2h-1zM35 709h1v2h-1zM36 707h1v2h-1zM37 708h2v1h-2zM39 709h11v1h-11zM50 708h3v1h-3zM53 709h2v1h-2zM55 710h2v1h-2zM56 711h1v1h-1zM57 712h1v2h-1zM58 714h1v3h-1zM59 717h1v2h-1zM60 719h1v2h-1zM61 719h1v1h-1zM62 718h2v1h-2zM64 717h2v1h-2zM66 716h7v1h-7zM72 717h1v1h-1zM73 718h1v2h-1zM74 720h1v3h-1zM75 723h1v2h-1zM76 725h1v2h-1zM77 724h1v2h-1zM78 723h1v1h-1zM79 721h1v2h-1zM80 720h1v1h-1zM81 718h1v2h-1zM82 717h1v1h-1zM83 715h1v2h-1zM84 714h2v1h-2zM86 713h3v1h-3zM89 712h2v1h-2zM91 711h2v1h-2zM93 712h1v1h-1zM94 713h2v1h-2zM96 714h2v1h-2zM98 715h3v1h-3zM101 716h1v1h-1zM102 717h1v1h-1zM103 718h1v1h-1zM104 719h1v1h-1zM105 718h1v1h-1zM106 717h1v1h-1zM107 716h1v1h-1zM108 715h1v1h-1zM109 714h1v1h-1zM110 713h1v1h-1zM111 712h1v1h-1zM112 711h1v1h-1zM113 712h1v2h-1zM114 714h1v2h-1zM115 716h1v2h-1zM116 718h1v2h-1zM117 719h1v1h-1zM118 718h3v1h-3zM121 716h1v2h-1zM122 715h1v1h-1zM123 713h1v2h-1zM124 712h1v1h-1zM125 711h1v1h-1zM126 709h1v2h-1zM127 708h1v1h-1zM128 707h1v1h-1zM129 706h1v1h-1zM130 705h3v1h-3zM132 704h1v1h-1zM132 706h1v1h-1zM133 707h1v4h-1zM134 711h1v4h-1zM135 715h1v4h-1zM136 719h1v3h-1zM137 720h1v1h-1zM138 719h1v1h-1zM139 718h1v1h-1zM140 717h1v1h-1zM141 718h1v2h-1zM142 720h1v1h-1zM143 721h1v2h-1zM144 723h1v1h-1zM145 722h1v1h-1zM146 721h2v1h-2zM148 720h1v1h-1zM149 721h1v2h-1zM150 723h1v1h-1zM151 724h1v2h-1zM152 726h5v1h-5zM157 724h1v2h-1zM158 723h1v1h-1zM159 721h1v2h-1zM160 720h9v1h-9zM169 718h1v2h-1zM170 717h1v1h-1zM171 715h1v2h-1zM172 714h1v2h-1zM173 716h1v2h-1zM174 718h1v3h-1zM175 721h1v2h-1zM176 723h1v2h-1zM177 724h4v1h-4zM181 723h2v1h-2zM183 722h2v1h-2zM184 723h1v1h-1zM185 724h1v4h-1zM186 728h1v4h-1zM187 732h1v4h-1zM188 736h1v3h-1zM189 738h4v1h-4zM192 739h1v1h-1zM193 740h1v2h-1zM194 742h1v3h-1zM195 745h1v2h-1zM196 747h1v2h-1zM197 747h1v1h-1zM198 746h2v1h-2zM200 745h2v1h-2zM202 746h4v1h-4zM206 745h3v1h-3zM209 743h1v2h-1zM210 742h1v1h-1zM211 740h1v2h-1zM212 739h5v1h-5zM217 738h2v1h-2zM219 737h3v1h-3zM222 736h3v1h-3zM224 737h1v1h-1zM225 738h1v3h-1zM226 741h1v2h-1zM227 743h1v3h-1zM228 746h1v2h-1zM229 745h1v2h-1zM230 743h1v2h-1zM231 741h1v2h-1zM232 740h1v1h-1zM233 738h1v2h-1zM234 736h1v2h-1zM235 734h1v2h-1zM236 733h1v1h-1zM237 734h2v1h-2zM239 735h2v1h-2zM241 736h2v1h-2zM243 737h2v1h-2zM245 738h2v1h-2zM247 739h6v1h-6zM253 740h1v2h-1zM254 742h1v2h-1zM255 744h1v2h-1zM256 746h1v1h-1zM257 747h1v2h-1zM258 749h1v2h-1zM259 751h1v2h-1zM260 753h3v1h-3zM260 754h1v1h-1zM263 752h6v1h-6zM268 751h1v1h-1zM269 749h1v2h-1zM270 746h1v3h-1zM271 744h1v2h-1zM272 742h1v2h-1zM273 742h1v1h-1zM274 743h3v1h-3zM277 742h2v1h-2zM279 741h2v1h-2zM280 740h1v1h-1zM281 737h1v3h-1zM282 735h1v2h-1zM283 732h1v3h-1zM284 730h1v2h-1zM285 730h1v1h-1zM286 731h3v1h-3zM288 732h1v1h-1zM289 733h1v3h-1zM290 736h1v2h-1zM291 738h1v3h-1zM292 741h1v2h-1zM293 742h1v1h-1zM294 743h3v1h-3zM297 742h1v1h-1zM298 741h1v1h-1zM299 740h2v1h-2zM300 739h1v1h-1zM301 741h1v3h-1zM302 744h1v4h-1zM303 748h1v3h-1zM304 751h1v2h-1zM305 747h1v4h-1zM306 743h1v4h-1zM307 739h1v4h-1zM308 736h1v3h-1zM309 737h2v1h-2zM311 738h2v1h-2zM312 739h1v1h-1zM313 740h1v3h-1zM314 743h1v2h-1zM315 745h1v3h-1zM316 748h1v2h-1zM317 749h1v1h-1zM318 748h3v1h-3zM320 747h1v1h-1zM321 743h1v4h-1zM322 740h1v3h-1zM323 736h1v4h-1zM324 734h1v2h-1zM325 736h1v2h-1zM326 738h1v3h-1zM327 741h1v2h-1zM328 743h1v2h-1zM329 745h2v1h-2zM331 746h2v1h-2zM333 747h2v1h-2zM335 748h2v1h-2zM337 749h1v1h-1zM338 750h2v1h-2zM340 751h1v1h-1zM341 750h2v1h-2zM343 749h2v1h-2zM344 748h1v1h-1zM345 745h1v3h-1zM346 743h1v2h-1zM347 740h1v3h-1zM348 738h1v2h-1zM349 739h2v1h-2zM351 740h2v1h-2zM353 741h2v1h-2zM355 742h6v1h-6zM360 743h1v1h-1zM361 744h1v2h-1zM362 746h1v2h-1zM363 748h1v2h-1zM364 750h1v2h-1zM365 750h1v1h-1zM366 749h2v1h-2zM368 748h1v1h-1zM369 749h1v2h-1zM370 751h1v2h-1zM371 753h1v2h-1zM372 755h1v2h-1zM373 751h1v4h-1zM374 747h1v4h-1zM375 743h1v4h-1zM376 740h1v3h-1zM377 740h1v1h-1zM378 739h4v1h-4zM382 740h3v1h-3zM385 741h1v1h-1zM386 742h2v1h-2zM388 743h1v1h-1zM389 741h1v2h-1zM390 739h1v2h-1zM391 737h1v2h-1zM392 735h1v2h-1zM393 734h1v1h-1zM394 733h1v1h-1zM395 732h1v1h-1zM396 731h1v1h-1zM397 730h1v1h-1zM398 728h1v2h-1zM399 727h1v1h-1zM400 726h2v1h-2zM402 725h4v1h-4zM406 724h3v1h-3zM409 723h2v1h-2zM411 722h3v1h-3zM414 723h3v1h-3zM417 724h1v1h-1zM418 725h1v1h-1zM419 726h1v1h-1zM420 727h2v1h-2zM422 726h3v1h-3zM425 727h1v2h-1zM426 729h1v1h-1zM427 730h1v2h-1zM428 732h5v1h-5zM433 733h2v1h-2zM435 734h2v1h-2zM437 732h1v2h-1zM438 731h1v1h-1zM439 729h1v2h-1zM440 728h1v1h-1zM441 729h2v1h-2zM443 730h6v1h-6zM449 729h1v1h-1zM450 728h2v1h-2zM452 727h5v1h-5zM457 726h1v1h-1zM458 724h1v2h-1zM459 723h1v1h-1zM460 722h1v1h-1zM461 721h1v1h-1zM462 720h2v1h-2zM464 719h1v1h-1zM465 718h1v1h-1zM466 717h1v1h-1zM467 716h1v1h-1zM468 715h5v1h-5zM473 716h1v2h-1zM474 718h1v2h-1zM475 720h1v2h-1zM476 722h1v2h-1zM477 723h1v1h-1zM478 724h3v1h-3zM480 723h1v1h-1zM481 721h1v2h-1zM482 719h1v2h-1zM483 717h1v2h-1zM484 715h1v2h-1zM485 714h1v1h-1zM486 713h2v1h-2zM488 712h1v1h-1zM489 711h1v1h-1zM490 710h1v1h-1zM491 709h2v1h-2zM492 708h1v1h-1zM493 710h1v3h-1zM494 713h1v3h-1zM495 716h1v3h-1zM496 719h1v2h-1zM497 720h1v1h-1zM498 721h4v1h-4zM502 722h7v1h-7zM508 723h1v1h-1zM509 724h1v2h-1zM510 726h1v2h-1zM511 728h1v2h-1zM512 730h1v2h-1zM513 732h1v1h-1zM514 733h2v1h-2zM516 734h1v1h-1zM517 733h2v1h-2zM519 732h2v1h-2zM521 733h2v1h-2zM523 734h3v1h-3zM526 735h4v1h-4zM530 734h4v1h-4zM534 735h3v1h-3zM537 734h2v1h-2zM539 733h2v1h-2zM540 734h1v1h-1zM541 735h1v2h-1zM542 737h1v3h-1zM543 740h1v2h-1zM544 742h1v2h-1zM545 741h1v2h-1zM546 739h1v2h-1zM547 737h1v2h-1zM548 736h1v1h-1zM549 737h2v1h-2zM551 738h2v1h-2zM553 737h2v1h-2zM555 736h2v1h-2zM556 735h1v1h-1zM557 732h1v3h-1zM558 728h1v4h-1zM559 725h1v3h-1zM560 723h1v2h-1zM561 723h1v1h-1zM562 724h3v1h-3zM564 723h1v1h-1zM565 720h1v3h-1zM566 717h1v3h-1zM567 714h1v3h-1zM568 712h1v2h-1zM569 714h1v2h-1zM570 716h1v3h-1zM571 719h1v2h-1zM572 721h1v2h-1zM573 722h1v1h-1zM574 721h3v1h-3zM577 720h1v1h-1zM578 719h1v1h-1zM579 718h1v1h-1zM580 717h1v1h-1zM581 718h1v2h-1zM582 720h1v2h-1zM583 722h1v2h-1zM584 724h1v3h-1zM585 727h1v2h-1zM586 729h1v3h-1zM587 732h1v2h-1zM588 734h1v2h-1zM589 735h1v1h-1zM590 734h3v1h-3zM593 735h1v1h-1zM594 736h2v1h-2zM596 737h5v1h-5zM601 738h1v1h-1zM602 739h2v1h-2zM604 740h1v1h-1zM605 741h1v1h-1zM606 742h1v2h-1zM607 744h1v1h-1zM608 745h1v2h-1zM609 747h1v3h-1zM610 750h1v4h-1zM611 754h1v3h-1zM612 757h1v2h-1zM613 757h1v1h-1zM614 756h2v1h-2zM616 755h1v1h-1zM617 753h1v2h-1zM618 752h1v1h-1zM619 750h1v2h-1zM620 749h2v1h-2zM622 750h3v1h-3zM625 751h1v1h-1zM626 752h2v1h-2zM628 753h1v1h-1zM629 752h1v1h-1zM630 750h1v2h-1zM631 749h1v1h-1zM632 748h1v1h-1zM633 747h2v1h-2zM635 746h3v1h-3zM638 745h3v1h-3zM641 744h1v1h-1zM642 743h2v1h-2zM644 742h1v1h-1zM645 743h2v1h-2zM647 744h2v1h-2zM648 743h1v1h-1zM649 740h1v3h-1zM650 738h1v2h-1zM651 735h1v3h-1zM652 733h1v2h-1zM653 734h1v1h-1zM654 735h2v1h-2zM656 736h1v1h-1zM657 737h2v1h-2zM659 738h2v1h-2zM661 736h1v2h-1zM662 734h1v2h-1zM663 732h1v2h-1zM664 731h9v1h-9zM673 732h1v1h-1zM674 733h2v1h-2zM676 734h1v1h-1zM677 733h2v1h-2zM679 732h2v1h-2zM681 730h1v2h-1zM682 728h1v2h-1zM683 726h1v2h-1zM684 725h2v1h-2zM686 724h8v1h-8zM694 725h3v1h-3zM697 724h1v1h-1zM698 723h1v1h-1zM699 722h1v1h-1zM700 720h1v2h-1zM701 718h1v2h-1zM702 716h1v2h-1zM703 714h1v2h-1zM704 712h1v2h-1zM705 711h1v1h-1zM706 709h1v2h-1zM707 708h1v1h-1zM708 707h1v1h-1zM709 705h1v2h-1zM710 704h1v1h-1zM711 702h1v2h-1zM712 701h1v1h-1zM713 702h1v1h-1zM714 703h1v1h-1zM715 704h1v1h-1zM716 705h1v1h-1zM717 704h2v1h-2zM719 703h2v1h-2zM721 702h1v1h-1zM722 700h1v2h-1zM723 699h1v1h-1zM724 698h5v1h-5zM729 699h2v1h-2zM731 700h2v1h-2zM733 701h1v1h-1zM734 702h1v1h-1zM735 703h1v1h-1zM736 704h2v1h-2zM738 703h7v1h-7zM745 704h2v1h-2zM747 705h2v1h-2zM749 706h1v2h-1zM750 708h1v2h-1zM751 710h1v2h-1zM752 712h1v2h-1zM753 712h1v1h-1zM754 711h1v1h-1zM755 710h1v1h-1zM756 709h1v1h-1zM757 710h1v2h-1zM758 712h1v2h-1zM759 714h1v2h-1zM760 716h1v1h-1zM761 717h1v1h-1zM762 718h1v2h-1zM763 720h1v1h-1zM764 721h1v1h-1zM765 720h2v1h-2zM767 719h2v1h-2zM769 718h1v1h-1zM770 716h1v2h-1zM771 715h1v1h-1zM772 714h1v1h-1zM773 713h2v1h-2zM775 712h2v1h-2zM776 713h1v2h-1zM777 715h1v5h-1zM778 720h1v4h-1zM779 724h1v5h-1zM780 729h1v3h-1zM781 732h1v2h-1zM782 734h1v2h-1zM783 736h1v2h-1zM784 738h1v2h-1zM785 740h1v1h-1zM786 741h1v2h-1zM787 743h1v1h-1zM788 744h1v2h-1zM789 746h1v2h-1zM790 748h1v3h-1zM791 751h1v2h-1zM792 753h1v2h-1zM793 751h1v2h-1zM794 748h1v3h-1zM795 746h1v2h-1zM796 744h1v2h-1zM797 745h2v1h-2zM799 746h2v1h-2zM801 745h1v1h-1zM802 743h1v2h-1zM803 742h1v1h-1zM804 741h1v1h-1zM805 740h1v1h-1zM806 739h2v1h-2zM808 738h2v1h-2zM810 739h3v1h-3zM813 740h1v1h-1zM814 741h1v2h-1zM815 743h1v1h-1zM816 744h1v1h-1zM817 742h1v2h-1zM818 740h1v2h-1zM819 738h1v2h-1zM820 737h1v1h-1zM821 738h1v1h-1zM822 739h1v2h-1zM823 741h1v1h-1zM824 742h1v2h-1zM825 744h1v3h-1zM826 747h1v2h-1zM827 749h1v3h-1zM828 752h1v2h-1zM829 754h1v1h-1zM830 755h2v1h-2zM832 756h1v1h-1zM833 755h2v1h-2zM835 754h2v1h-2zM837 752h1v2h-1zM838 751h1v1h-1zM839 749h1v2h-1zM840 748h1v1h-1zM841 746h1v2h-1zM842 744h1v2h-1zM843 742h1v2h-1zM844 740h1v2h-1zM845 739h1v1h-1zM846 738h2v1h-2zM848 737h1v1h-1zM849 738h1v1h-1zM850 739h2v1h-2zM852 740h1v2h-1zM853 742h1v3h-1zM854 745h1v3h-1zM855 748h1v3h-1zM856 751h1v2h-1zM857 753h2v1h-2zM859 754h2v1h-2zM861 755h1v2h-1zM862 757h1v2h-1zM863 759h1v2h-1zM864 761h1v2h-1zM865 762h4v1h-4zM869 761h1v1h-1zM870 760h1v1h-1zM871 759h1v1h-1zM872 758h1v1h-1zM873 759h1v1h-1zM874 760h2v1h-2zM876 761h1v1h-1zM877 762h1v1h-1zM878 763h1v2h-1zM879 765h2v1h-2zM880 766h1v1h-1zM881 763h1v2h-1zM882 761h1v2h-1zM883 759h1v2h-1zM884 757h1v2h-1zM885 757h1v1h-1zM886 758h3v1h-3zM889 756h1v2h-1zM890 754h1v2h-1zM891 752h1v2h-1zM892 751h1v1h-1zM893 749h1v2h-1zM894 748h1v1h-1zM895 746h1v2h-1zM896 745h1v1h-1zM897 746h2v1h-2zM899 747h2v1h-2zM900 746h1v1h-1zM901 743h1v3h-1zM902 741h1v2h-1zM903 738h1v3h-1zM904 736h1v2h-1zM905 736h1v1h-1zM906 737h7v1h-7zM913 736h1v1h-1zM914 735h1v1h-1zM915 734h2v1h-2zM916 733h1v1h-1zM917 735h1v4h-1zM918 739h1v3h-1zM919 742h1v4h-1zM920 746h1v3h-1zM921 749h1v3h-1zM922 752h1v4h-1zM923 756h1v3h-1zM924 759h1v2h-1zM925 761h1v1h-1zM926 762h2v1h-2zM928 763h2v1h-2zM930 764h3v1h-3zM933 765h1v1h-1zM934 766h2v1h-2zM936 767h1v1h-1zM937 765h1v2h-1zM938 764h1v1h-1zM939 762h1v2h-1zM940 761h1v1h-1zM941 760h1v1h-1zM942 758h1v2h-1zM943 757h1v1h-1zM944 756h5v1h-5zM949 757h2v1h-2zM951 758h2v1h-2zM952 757h1v1h-1zM953 755h1v2h-1zM954 753h1v2h-1zM955 751h1v2h-1zM956 748h1v3h-1zM957 745h1v3h-1zM958 742h1v3h-1zM959 739h1v3h-1zM960 737h1v2h-1zM961 738h1v1h-1zM962 739h2v1h-2zM964 740h2v1h-2zM966 739h4v1h-4zM970 740h3v1h-3zM972 739h1v1h-1zM973 737h1v2h-1zM974 734h1v3h-1zM975 732h1v2h-1zM976 730h1v2h-1zM977 730h1v1h-1zM978 731h3v1h-3zM981 730h1v1h-1zM982 729h1v1h-1zM983 728h1v1h-1zM984 727h2v1h-2zM986 728h3v1h-3zM988 729h1v1h-1zM989 730h1v2h-1zM990 732h1v2h-1zM991 734h1v2h-1zM992 736h1v2h-1zM993 736h1v1h-1zM994 735h1v1h-1zM995 734h2v1h-2zM996 733h1v1h-1zM997 735h1v2h-1zM998 737h1v2h-1zM999 739h1v2h-1zM1000 741h1v2h-1zM1001 742h8v1h-8zM1009 740h1v2h-1zM1010 739h1v1h-1zM1011 737h1v2h-1zM1012 736h1v1h-1zM1013 737h2v1h-2zM1015 738h2v1h-2zM1017 739h1v2h-1zM1018 741h1v1h-1zM1019 742h1v2h-1zM1020 744h2v1h-2zM1022 745h3v1h-3zM1025 744h2v1h-2zM1027 743h3v1h-3zM1030 744h3v1h-3zM1033 742h1v2h-1zM1034 741h1v1h-1zM1035 739h1v2h-1zM1036 738h1v1h-1zM1037 739h2v1h-2zM1039 740h2v1h-2zM1040 739h1v1h-1zM1041 736h1v3h-1zM1042 733h1v3h-1zM1043 730h1v3h-1zM1044 728h1v2h-1zM1045 727h1v1h-1zM1046 725h1v2h-1zM1047 724h1v1h-1zM1048 723h1v1h-1zM1049 724h2v1h-2zM1051 725h2v1h-2zM1053 726h1v1h-1zM1054 727h2v1h-2zM1056 728h1v1h-1zM1057 729h1v1h-1zM1058 730h1v1h-1zM1059 731h1v1h-1zM1060 732h1v1h-1zM1061 730h1v2h-1zM1062 728h1v2h-1zM1063 726h1v2h-1zM1064 725h1v2h-1zM1065 727h1v2h-1zM1066 729h1v2h-1zM1067 731h1v2h-1zM1068 733h1v3h-1zM1069 736h1v3h-1zM1070 739h1v2h-1zM1071 741h1v3h-1zM1072 744h1v2h-1zM1073 745h4v1h-4zM1076 746h1v1h-1zM1077 747h1v4h-1zM1078 751h1v3h-1zM1079 754h1v4h-1zM1080 758h1v2h-1zM1081 756h1v2h-1zM1082 753h1v3h-1zM1083 751h1v2h-1zM1084 749h1v2h-1zM1085 750h2v1h-2zM1087 751h6v1h-6zM1093 752h2v1h-2zM1095 753h3v1h-3zM1098 754h3v1h-3zM1101 755h1v1h-1zM1102 756h3v1h-3zM1104 757h1v1h-1zM1105 753h1v3h-1zM1106 749h1v4h-1zM1107 746h1v3h-1zM1108 744h1v2h-1zM1109 745h1v1h-1zM1110 746h2v1h-2zM1112 747h1v1h-1zM1113 746h1v1h-1zM1114 744h1v2h-1zM1115 743h1v1h-1zM1116 742h1v1h-1zM1117 741h1v1h-1zM1118 740h2v1h-2zM1120 739h1v1h-1zM1121 738h2v1h-2zM1123 737h3v1h-3zM1126 738h3v1h-3z"/>
<text x="8" y="683" font-size="9.9" fill="#000" stroke="#000" stroke-width="0.12" textLength="68" lengthAdjust="spacingAndGlyphs"  xml:space="preserve">RSI(14) 48.5840</text>
<rect x="221" y="822" width="108" height="20" fill="#ffffff"/>
<rect x="221" y="823" width="1" height="19" fill="#000000"/>
<rect x="328" y="823" width="1" height="19" fill="#000000"/>
<rect x="221" y="841" width="108" height="1" fill="#000000"/>
<rect x="329" y="824" width="1" height="19" fill="#c8c8c8"/>
<rect x="222" y="842" width="108" height="1" fill="#d4d4d4"/>
<text x="16.4" y="838" font-size="13.2" fill="#6e6e6e" stroke="#6e6e6e" stroke-width="0" textLength="84.4" lengthAdjust="spacingAndGlyphs"  xml:space="preserve">EURUSD-,Daily</text>
<text x="123.2" y="838" font-size="13.2" fill="#6e6e6e" stroke="#6e6e6e" stroke-width="0" textLength="87.1" lengthAdjust="spacingAndGlyphs"  xml:space="preserve">AUDUSD-,Daily</text>
<text x="233.2" y="838" font-size="13.2" fill="#000000" stroke="#000000" stroke-width="0" textLength="84.2" lengthAdjust="spacingAndGlyphs"  xml:space="preserve">USDCHF-,Daily</text>
<text x="340.3" y="838" font-size="13.2" fill="#6e6e6e" stroke="#6e6e6e" stroke-width="0" textLength="85.6" lengthAdjust="spacingAndGlyphs"  xml:space="preserve">USDCAD-,Daily</text>
<text x="449.1" y="838" font-size="13.2" fill="#6e6e6e" stroke="#6e6e6e" stroke-width="0" textLength="88.0" lengthAdjust="spacingAndGlyphs"  xml:space="preserve">USDCNH-,Daily</text>
<text x="560" y="838" font-size="13.2" fill="#6e6e6e" stroke="#6e6e6e" stroke-width="0" textLength="96.9" lengthAdjust="spacingAndGlyphs"  xml:space="preserve">EURCHF-,Weekly</text>
<text x="680.8" y="838" font-size="13.2" fill="#6e6e6e" stroke="#6e6e6e" stroke-width="0" textLength="99.9" lengthAdjust="spacingAndGlyphs"  xml:space="preserve">XAUUSD-,Weekly</text>
<text x="804" y="838" font-size="13.2" fill="#6e6e6e" stroke="#6e6e6e" stroke-width="0" textLength="72.6" lengthAdjust="spacingAndGlyphs"  xml:space="preserve">GBPUSD-,H1</text>
<text x="900.5" y="838" font-size="13.2" fill="#6e6e6e" stroke="#6e6e6e" stroke-width="0" textLength="56.5" lengthAdjust="spacingAndGlyphs"  xml:space="preserve">UKOil-,H1</text>
<text x="979.2" y="838" font-size="13.2" fill="#6e6e6e" stroke="#6e6e6e" stroke-width="0" textLength="82.5" lengthAdjust="spacingAndGlyphs"  xml:space="preserve">USDX-,Weekly</text>
<rect x="113" y="827" width="1" height="12" fill="#6e6e6e"/>
<rect x="437" y="827" width="1" height="12" fill="#6e6e6e"/>
<rect x="549" y="827" width="1" height="12" fill="#6e6e6e"/>
<rect x="669" y="827" width="1" height="12" fill="#6e6e6e"/>
<rect x="793" y="827" width="1" height="12" fill="#6e6e6e"/>
<rect x="889" y="827" width="1" height="12" fill="#6e6e6e"/>
<rect x="969" y="827" width="1" height="12" fill="#6e6e6e"/>
<rect x="1073" y="827" width="1" height="12" fill="#6e6e6e"/>
<path d="M1434.5 832l4 -3.5v7z" fill="#9a9a9a" shape-rendering="auto"/>
<path d="M1457.5 832l-4 -3.5v7z" fill="#9a9a9a" shape-rendering="auto"/>
</svg>
</body></html>
